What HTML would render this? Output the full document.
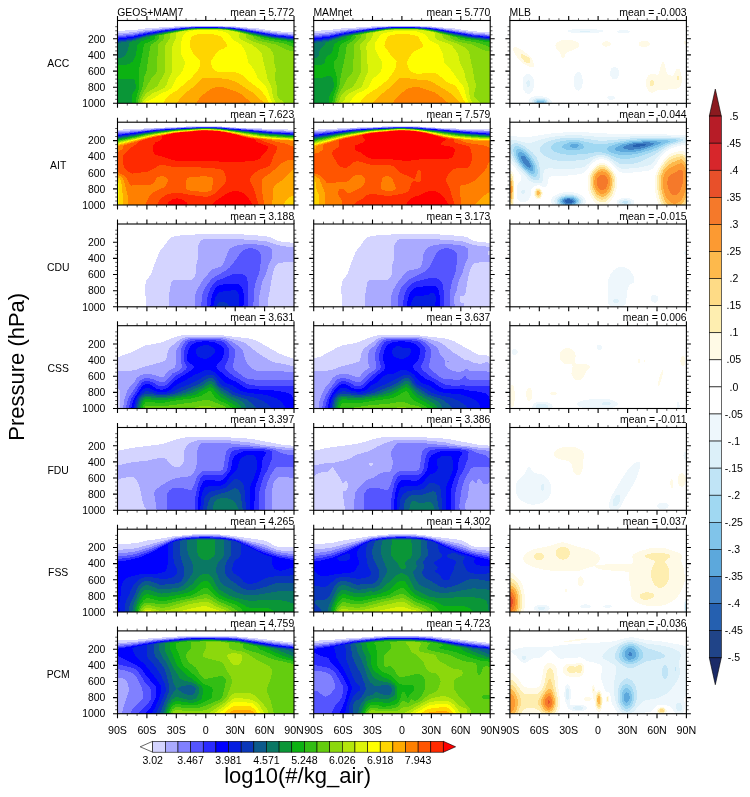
<!DOCTYPE html><html><head><meta charset="utf-8"><title>Zonal mean aerosol number</title>
<style>html,body{margin:0;padding:0;background:#fff}svg{display:block;will-change:transform}text{font-family:"Liberation Sans",sans-serif;fill:#000}</style></head><body>
<svg width="750" height="797" viewBox="0 0 750 797">
<rect width="750" height="797" fill="#fff"/>
<defs>
<clipPath id="c00"><rect x="117.5" y="20.5" width="176.5" height="82.8"/></clipPath>
<clipPath id="c10"><rect x="117.5" y="122.2" width="176.5" height="82.8"/></clipPath>
<clipPath id="c20"><rect x="117.5" y="224" width="176.5" height="82.8"/></clipPath>
<clipPath id="c30"><rect x="117.5" y="325.7" width="176.5" height="82.8"/></clipPath>
<clipPath id="c40"><rect x="117.5" y="427.5" width="176.5" height="82.8"/></clipPath>
<clipPath id="c50"><rect x="117.5" y="529.2" width="176.5" height="82.8"/></clipPath>
<clipPath id="c60"><rect x="117.5" y="630.9" width="176.5" height="82.8"/></clipPath>
<clipPath id="c01"><rect x="313.7" y="20.5" width="176.5" height="82.8"/></clipPath>
<clipPath id="c11"><rect x="313.7" y="122.2" width="176.5" height="82.8"/></clipPath>
<clipPath id="c21"><rect x="313.7" y="224" width="176.5" height="82.8"/></clipPath>
<clipPath id="c31"><rect x="313.7" y="325.7" width="176.5" height="82.8"/></clipPath>
<clipPath id="c41"><rect x="313.7" y="427.5" width="176.5" height="82.8"/></clipPath>
<clipPath id="c51"><rect x="313.7" y="529.2" width="176.5" height="82.8"/></clipPath>
<clipPath id="c61"><rect x="313.7" y="630.9" width="176.5" height="82.8"/></clipPath>
<clipPath id="c02"><rect x="509.9" y="20.5" width="176.5" height="82.8"/></clipPath>
<clipPath id="c12"><rect x="509.9" y="122.2" width="176.5" height="82.8"/></clipPath>
<clipPath id="c22"><rect x="509.9" y="224" width="176.5" height="82.8"/></clipPath>
<clipPath id="c32"><rect x="509.9" y="325.7" width="176.5" height="82.8"/></clipPath>
<clipPath id="c42"><rect x="509.9" y="427.5" width="176.5" height="82.8"/></clipPath>
<clipPath id="c52"><rect x="509.9" y="529.2" width="176.5" height="82.8"/></clipPath>
<clipPath id="c62"><rect x="509.9" y="630.9" width="176.5" height="82.8"/></clipPath>
</defs>
<g clip-path="url(#c00)" shape-rendering="crispEdges">
<g transform="scale(0.25)">
<rect x="468" y="80" width="712" height="337" fill="#ffffff"/>
<path fill="#d4d4ff" d="M695 106l104-3 120 1 117 10 68 11 72 4 0 284-706 0 0-290 60-2 48-7z"/>
<path fill="#aaaaff" d="M763 106l80-2 100 4 97 12 68 10 68 6 0 277-706 0 0-280 60-4 56-9 85-8z"/>
<path fill="#8080ff" d="M817 106l78 1 56 4 156 23 69 6 0 273-706 0 0-273 60-6 60-10 101-12 60-4z"/>
<path fill="#5555ff" d="M740 110l79-3 92 2 44 4 157 25 64 5 0 270-706 0 0-268 64-6 48-10 36-6 65-8z"/>
<path fill="#2a2aff" d="M757 110l82-2 48 1 40 3 36 4 141 23 72 7 0 267-706 0 0-263 60-7 56-12 73-11z"/>
<path fill="#0000ff" d="M778 110l69-1 76 3 32 4 150 26 71 7 0 264-706 0 0-258 60-8 64-14 77-13 64-7z"/>
<path fill="#051ee1" d="M799 110l84 1 40 2 32 4 145 26 76 9 0 261-706 0 0-254 60-8 64-16 85-14 68-8z"/>
<path fill="#0a37b9" d="M744 114l75-4 92 3 44 6 145 27 76 8 0 259-706 0 0-250 60-8 56-15 49-10 56-9z"/>
<path fill="#0c5a8c" d="M755 114l68-3 60 1 28 2 40 5 81 17 64 12 80 9 0 256-706 0 0-246 60-9 56-16 56-11 53-9z"/>
<path fill="#0a7864" d="M769 114l66-2 76 3 40 5 73 16 64 13 88 10 0 254-706 0 0-241 60-10 56-17 65-14 72-12z"/>
<path fill="#0a9637" d="M784 114l71-1 60 3 36 6 73 16 60 12 92 12 0 251-706 0 0-179 20-5 8-5 6-6 5-12 10-36 9-4 10-2 44-15 60-14 89-16z"/>
<path fill="#0cb212" d="M802 114l81 0 37 4 31 5 61 15 60 12 52 9 52 6 0 248-648 0 1-36 13-20 2-8-3-20-3-8-8-7-60 0 0-53 36-3 13-4 11-8 6-8 6-13 8-43 4-7 12-9 32-11 6-9 63-15 60-10 32-5z"/>
<path fill="#32be14" d="M753 118l70-4 60 1 30 3 38 6 113 28 84 14 28 8 0 239-633 0 4-32 11-32-2-71 13-60 5-32 3-8 5-4 24-11 8-5 5-4 2-8 8-4 62-14z"/>
<path fill="#64cd0f" d="M763 118l52-3 64 1 24 2 36 5 90 23 12 4 4 4 11 4 80 16 40 15 0 224-626 0 6-28 14-36 8-44 9-23 4-36 9-56 2-8 2-4 19-12 10-8 4-8 1-8 61-14z"/>
<path fill="#8cd80c" d="M775 118l44-2 64 1 28 3 36 6 58 16 3 2 5 2 1 4 3 4 16 8 19 5 52 11 40 20 16 5 16 2 0 208-619 0 5-19 9-21 35-60 17-20 4-7 5-104 1-4 17-16 6-8 1-12 4-4 36-8 46-9z"/>
<path fill="#b4e60a" d="M788 118l35-1 64 1 32 4 36 7 17 5 3 2 9 2 1 12 9 8 22 9 34 11 17 8 12 8 10 12 5 12 3 32 6 28-3 37 7 30 3 40 6 10 12 8 9 10-574 0 11-25 12-16 12-9 25-14 8-8 27-48 3-11 0-100 3-8 15-20 1-16 5-4 46-10 24-3z"/>
<path fill="#dcf408" d="M803 118l61 0 47 3 42 9 5 4-2 16 7 8 15 8 29 12 31 24 7 8 3 8 5 28 10 36 7 35 14 26 8 42 4 12 10 16-536 0 8-14 8-8 25-18 44-20 5-4 5-8 10-28 13-27-1-40 3-64 2-8 12-20 1-20 5-4 13-1 6-3 23-4z"/>
<path fill="#ffff00" d="M772 122l51-2 50 2 26 5 16 8 6 7 7 12 8 8 28 16 3 4 17 28 9 40 23 28 17 39 31 29 5 11 12 36 10 20-513 0 8-7 21-9 32-20 36-17 13-11 18-36 23-27 11-32 0-8-11-20-3-8-4-28 1-16 8-28 5-8 10-8 13-5z"/>
<path fill="#ffd500" d="M789 138l26-3 24 0 28 5 18 6 20 28 2 8-1 4-7 6-24 11-8 6-22 33-1 8 1 8 4 12 5 8 5 4 12 5 72 3 12 3 12 6 9 6 24 23 32 24 12 10 16 20 17 31-423 0 5-12 15-16 9-8 31-20 25-23 21-17 32-35 8-20 1-16-5-8-20-20-14-24-3-12 2-20 3-12 2-4 8-4z"/>
<path fill="#ffaa00" d="M811 313l12-3 64 4 28 4 24 8 12 6 64 41 43 40-353 0 30-36 40-30z"/>
<path fill="#ff8000" d="M862 349l17-2 12 1 60 21 15 8 42 36-221 0 3-8 5-8 15-16 29-22 11-6z"/>
</g>
</g>
<g clip-path="url(#c01)" shape-rendering="crispEdges">
<g transform="scale(0.25)">
<rect x="1252" y="80" width="712" height="337" fill="#ffffff"/>
<path fill="#d4d4ff" d="M1484 106l100-3 120 1 116 10 69 11 72 4 0 284-706 0 0-290 56-2 52-7z"/>
<path fill="#aaaaff" d="M1550 106l78-2 100 4 96 12 69 10 68 6 0 277-706 0 0-280 60-4 56-9 84-8z"/>
<path fill="#8080ff" d="M1507 110l93-4 100 2 48 5 145 21 68 6 0 273-706 0 0-273 60-6 64-11z"/>
<path fill="#5555ff" d="M1526 110l78-3 92 2 44 4 157 25 64 5 0 270-706 0 0-268 64-6 48-10 36-6z"/>
<path fill="#2a2aff" d="M1544 110l80-2 48 1 40 3 36 4 141 23 72 7 0 267-706 0 0-263 60-7 56-12 48-7 60-8z"/>
<path fill="#0000ff" d="M1565 110l71-1 72 3 32 4 150 26 71 7 0 264-706 0 0-259 60-7 64-14 76-12 69-9z"/>
<path fill="#051ee1" d="M1587 110l81 1 40 2 32 5 145 25 76 9 0 261-706 0 0-254 60-8 64-16 84-14 69-8z"/>
<path fill="#0a37b9" d="M1531 114l73-4 88 3 44 5 149 28 76 8 0 259-706 0 0-250 60-8 56-15 50-10 54-9z"/>
<path fill="#0c5a8c" d="M1542 114l66-3 86 3 42 5 145 29 80 9 0 256-706 0 0-246 60-9 56-16 56-11 56-10z"/>
<path fill="#0a7864" d="M1556 114l68-2 72 3 40 6 80 17 61 11 84 10 0 254-706 0 0-241 60-10 56-17 64-14 81-13z"/>
<path fill="#0a9637" d="M1572 114l68-1 56 3 40 6 76 17 57 11 48 7 44 5 0 251-706 0 0-180 12-3 5-4 4-8 1-12 4-8 16-16 7-12 63-21 64-15 89-15z"/>
<path fill="#0cb212" d="M1590 114l78 1 32 2 36 6 121 27 52 9 52 5 0 249-645 0 1-24 3-12 11-16 4-12 0-16-4-17-4-8-4-4-8-2-28 10-32 2 0-53 24-2 8-1 8-4 3-4 5-16 4-8 16-10 5-6 7-28 5-8 12-8 31-11 6-9 62-15 65-11 28-3z"/>
<path fill="#32be14" d="M1541 118l67-4 60 1 24 2 44 7 112 28 49 8 17 2 31 7 12 0 4 2 0 242-632 0 4-28 11-28 3-16-1-36-3-15-7-20 0-16 2-8 9-11 4-9 7-40 4-8 5-4 24-11 8-5 5-4 2-8 7-4 58-13z"/>
<path fill="#64cd0f" d="M1551 118l49-3 64 1 24 2 36 5 90 23 12 4 5 4 13 5 53 9 24 6 40 15 0 224-624 0 7-32 13-32 6-43 18-84 5-36 3-8 19-12 9-8 5-8 0-8 57-13z"/>
<path fill="#8cd80c" d="M1563 118l41-2 64 1 28 3 36 6 58 16 2 2 7 2 1 4 3 4 17 8 20 6 49 10 40 20 16 5 16 2 0 208-617 0 8-28 7-15 17-29 14-28 17-20 5-7 3-76 0-28 5-8 20-20 2-4 0-8 4-4 36-8 50-9z"/>
<path fill="#b4e60a" d="M1576 118l36-1 60 1 28 3 40 8 17 5 3 3 9 1 2 12 9 7 57 21 28 16 8 9 5 11 7 38 8 30 2 31 9 24 0 8-7 29-1 11 5 8 12 10 9 10-571 0 17-36 11-11 29-17 8-8 27-49 3-14-3-68-3-28 3-8 19-20 3-8 0-8 5-4 46-9 24-4z"/>
<path fill="#dcf408" d="M1593 118l53 0 50 4 8 3 16 1 4 3 13 1 3 4 1 16 8 8 15 7 30 9 13 8 25 32 7 36 18 36 6 31 10 24 6 48 5 12 7 12-530 0 16-12 7-16 7-8 13-8 35-16 5-4 6-8 10-28 11-24 2-7-5-44 0-24-3-20 1-12 3-8 17-20 7-20 5-4 14-1 4-3 16-1 7-3z"/>
<path fill="#ffff00" d="M1600 122l44 0 28 5 16 5 17 10 8 12 8 8 30 16 5 4 14 32 8 36 6 8 19 20 27 39 22 27 5 10 8 35 11 24-481 0 5-4 11-20 8-8 12-8 26-12 12-8 6-8 16-30 25-19 7-10 6-24-1-16-14-20-12-24-3-8 0-8 0-8 3-8 17-28 9-7 12-4z"/>
<path fill="#ffd500" d="M1580 138l40-2 21 2 19 4 10 4 4 4 18 28-1 8-3 4-8 5-20 8-9 7-21 32-2 4 1 12 3 12 6 12 11 7 15 5 16 1 32-4 16-1 12 3 12 5 32 27 12 7 20 8 8 7 10 14 28 52-421 0 2-8 5-8 15-16 51-32 30-24 8-8 26-35 7-20 1-16-5-8-20-20-9-15-12-13-3-8 3-12 11-24 9-4z"/>
<path fill="#ffaa00" d="M1596 313l8-3 16 1 48 7 40 3 20 6 76 47 39 39-352 0 13-16 22-20 30-24z"/>
<path fill="#ff8000" d="M1650 349l18-1 12 2 57 19 14 8 43 36-222 0 8-16 20-20 27-20 9-4z"/>
</g>
</g>
<g clip-path="url(#c02)" shape-rendering="crispEdges">
<g transform="scale(0.25)">
<rect x="2037" y="80" width="712" height="337" fill="#80c4ea"/>
<path fill="#a0d8f2" d="M2040 82l706 0 0 331-572 0 2-4-2-4-6-3-8 0-10 3-2 4 1 4-109 0z"/>
<path fill="#c0e4f6" d="M2040 82l706 0 0 331-564 0 1-4-1-4-5-4-9-3-8 0-8 1-8 4-4 6 2 4-102 0z"/>
<path fill="#dcf0f9" d="M2040 82l706 0 0 331-557 0 0-8-5-5-12-5-12-1-12 2-10 5-3 4 0 8-95 0z"/>
<path fill="#eef7fc" d="M2040 82l706 0 0 331-550 0 0-8-8-8-12-5-16-2-16 2-11 5-7 8 1 8-87 0zM2112 321l-4 3-3 9 3 12 4 4 4-1 2-3 2-4 1-8-2-8-3-4zM2324 122l-1 0-3 4 20 1 21-1-2-4z"/>
<path fill="#ffffff" d="M2040 82l706 0 0 331-540 0 0-8-2-4-8-8-16-6-20-3-24 2-12 4-4 4-4 7 0 12-76 0zM2108 296l-8 5-6 8-4 16 0 16 3 16 7 12 8 6 8 1 8-4 8-12 4-15 0-16-2-12-6-12-8-7-8-2zM2288 118l-16 4-1 4 14 4 23 2 32 2 33-1 24-3 14-4-1-4-5-2-32-4-45-1zM2433 385l-4 4 1 4 7 6 12 0 6-2 4-4 1-4-3-4-4-2-12-1zM2453 268l-7 6-4 8-2 15 3 8 5 8 5 3 8 2 8-5 5-8 3-8-1-11-3-8-4-6-8-5zM2477 122l-10 4 5 4 17 3 24-2 4-1 2-4-8-4-6-1zM2308 288l-8 9-3 8-3 12 0 12 2 15 4 10 4 5 8 4 8-3 7-11 3-12 1-16-3-16-4-9-8-8z"/>
<path fill="#fffae6" d="M2245 162l23-3 25 3 18 8 4 4 2 8-5 7-6 5-30 12-13 8-2 4-4 12-5 2-4 0-4-6-2-12-16-20-5-12 3-8 4-4zM2418 166l11-1 8 2 4 3 3 4-1 4-6 6-8 2-8 0-8-3-5-5 0-4 2-4zM2562 166l15-3 12 2 7 5 3 4 0 4-6 6-8 3-12 1-8-1-8-5-3-4 0-4 2-4zM2737 166l5-3 4 5 0 6-4 5-4-2-2-3zM2055 190l9-2 12 5 12 7 32 24 7 10 8 20 2 8-1 5-4 2-4 0-16-4-16-9-13-10-17-20-10-16-4-12 1-4zM2648 250l1-3 4 0 4 6 9 36 3 7 8 5 12 2 4-3 12-22 4-4 5 0 4 3 5 12 4 20 1 16-4 16-6 9-9 4-16 0-28 5-28 0-8 2-16 9-8 1-4-2-9-8-7-16-2-16 4-16 6-11 8-6 8-1 20 4 4-2 4-7 6-28z"/>
<path fill="#feeeb0" d="M2082 218l6-1 20 8 7 5 3 4 2 8-2 8-6 2-4 0-11-6-14-20zM2709 305l5-1 0 14-5 1 0-2zM2603 321l2-1 4 0 4 3 3 6-2 12-5 5-5-1-3-2-2-6 0-8z"/>
</g>
</g>
<g clip-path="url(#c10)" shape-rendering="crispEdges">
<g transform="scale(0.25)">
<rect x="468" y="486" width="712" height="337" fill="#ffffff"/>
<path fill="#d4d4ff" d="M763 505l44-2 40 0 96 7 233 9 0 301-706 0 0-301z"/>
<path fill="#aaaaff" d="M729 509l74-3 56 0 234 15 83 2 0 297-706 0 0-295 68-4 76-7z"/>
<path fill="#8080ff" d="M758 509l57-2 44 0 249 18 68 2 0 293-706 0 0-290 64-5 100-10z"/>
<path fill="#5555ff" d="M787 509l44-1 56 2 201 16 88 4 0 290-706 0 0-286 56-5 116-13z"/>
<path fill="#2a2aff" d="M721 513l86-4 60 1 233 19 76 3 0 288-706 0 0-283 60-6 92-12z"/>
<path fill="#0000ff" d="M741 513l74-3 52 1 124 9 97 10 88 5 0 285-706 0 0-280 60-7 96-13z"/>
<path fill="#051ee1" d="M760 513l59-3 52 2 116 9 97 10 92 6 0 283-706 0 0-277 60-7 100-15z"/>
<path fill="#0a37b9" d="M778 513l49-2 60 3 193 19 96 6 0 281-706 0 0-274 164-24 61-5z"/>
<path fill="#0c5a8c" d="M792 513l39-1 56 3 185 19 104 6 0 280-706 0 0-271 164-25 65-6z"/>
<path fill="#0a7864" d="M809 513l34 0 48 3 169 19 116 7 0 278-706 0 0-268 60-9 56-11 52-7 69-7z"/>
<path fill="#0a9637" d="M744 517l75-4 60 3 181 21 116 7 0 276-706 0 0-265 152-27 65-7z"/>
<path fill="#0cb212" d="M759 517l64-3 60 3 173 21 120 8 0 274-706 0 0-262 156-29 69-8z"/>
<path fill="#32be14" d="M773 517l54-2 56 3 169 22 56 5 68 3 0 272-706 0 0-259 60-11 56-13 40-6 73-9z"/>
<path fill="#64cd0f" d="M784 517l43-2 56 3 165 23 60 5 68 4 0 270-706 0 0-256 60-12 56-13 44-7 69-9z"/>
<path fill="#8cd80c" d="M794 517l41-1 52 3 157 24 60 5 72 4 0 268-706 0 0-253 60-13 56-13 47-8 70-10z"/>
<path fill="#b4e60a" d="M805 517l34 0 48 3 153 24 64 6 72 4 0 266-706 0 0-251 60-12 56-14 52-10 65-9z"/>
<path fill="#dcf408" d="M759 521l60-4 48 2 40 5 88 16 45 6 64 6 72 3 0 265-706 0 0-248 144-33 81-13z"/>
<path fill="#ffff00" d="M770 521l53-3 54 3 34 4 80 16 45 6 64 6 76 4 0 263-706 0 0-245 112-28 36-7 81-13z"/>
<path fill="#ffd500" d="M779 521l48-3 56 4 60 10 52 11 37 6 68 6 76 4 0 261-699 0-1-72-3-24-3-8 0-138 112-29 40-8 77-13z"/>
<path fill="#ffaa00" d="M787 521l44-2 52 4 58 10 54 12 33 5 72 7 76 4 0 221-12 3-12 9-9 10-9 16-642 0-1-40-6-52-4-12-11-9 0-126 112-30 40-9 77-13z"/>
<path fill="#ff8000" d="M795 521l36-1 52 4 32 5 76 17 33 5 64 7 88 5 0 113-14 12-27 28-31 21-8 9-3 6-1 8-3 60-577 0-2-40-15-60-9-12-16-9 0-114 112-32 44-10 73-13z"/>
<path fill="#ff5500" d="M804 521l39 0 60 7 97 22 86 11 18 6 40 8 32 13 0 50-28 4-20 9-32 29-20 16-20 13-7 7-2 12 0 32 11 60-478 0 18-36 6-8 10-7 20-11 21-8 8-7 6-11 2-8-1-8-2-4-5-4-8-3-13 0-8 2-8 5-8 17-4 4-8 5-12 2-68 2-8-6-10-20-10-12-28-17 0-78 18-12 3-4 4-12 11-2 76-24 117-24zM759 708l-9 4-5 8-3 32 1 4 6 4 18 4 56 4 16-3 6-5 3-4 5-36-4-8-6-4-20-3z"/>
<path fill="#ff2a00" d="M816 521l51 3 32 4 44 9 48 13 46 7 16 8 38 12 15 8 2 8-3 12-11 20-9 28-5 8-12 8-24 8-15 7-19 16-6 8-4 8 1 12 15 29 19 63-408 0 11-20 13-12 20-11 20-5 24-1 40 8 64 8 12 0 20-8 16-11 25-24 9-12 3-8 0-12-4-16-6-12-4-4-7-2-40-7-152-4-45-8-12 4-24 15-20 9-60 7-8-2-7-4-16-15-4-8-2-8 1-36 2-4 30-27 19-13 12-12 41-13 97-20z"/>
<path fill="#ff0000" d="M776 525l47-2 44 1 32 5 39 8 49 14 32 6 5 8 8 5 38 15 2 4 0 4-5 8-15 16-12 16-12 7-16 4-77 5-100-5-124-1-20-2-40-14-24-6-7-4-6-8-2-12 0-12 4-8 6-7 19-9 5-4 0-12 9-1 3-3 13-1 5-3 15-2 8-3 40-4 28-1zM932 764l11-1 12 2 20 8 9 7 7 8 20 32-165 0 12-12 17-13 36-23zM692 796l15-3 20 5 18 10 10 12-90 0 14-16z"/>
</g>
</g>
<g clip-path="url(#c11)" shape-rendering="crispEdges">
<g transform="scale(0.25)">
<rect x="1252" y="486" width="712" height="337" fill="#ffffff"/>
<path fill="#d4d4ff" d="M1555 505l37-2 40 0 156 10 173 5 0 302-706 0 0-301 148-8z"/>
<path fill="#aaaaff" d="M1516 509l72-3 52 0 172 11 149 6 0 297-706 0 0-294 144-12z"/>
<path fill="#8080ff" d="M1545 509l55-2 44 0 198 14 119 5 0 294-706 0 0-290 164-15z"/>
<path fill="#5555ff" d="M1573 509l43-1 56 2 196 15 93 5 0 290-706 0 0-286 172-18z"/>
<path fill="#2a2aff" d="M1508 513l84-4 60 1 238 19 71 3 0 288-706 0 0-282 152-19z"/>
<path fill="#0000ff" d="M1527 513l73-3 52 1 124 9 105 10 80 5 0 285-706 0 0-279 156-21z"/>
<path fill="#051ee1" d="M1546 513l58-2 52 1 116 10 112 11 77 4 0 283-706 0 0-276 160-23z"/>
<path fill="#0a37b9" d="M1563 513l49-2 60 3 197 20 92 5 0 281-706 0 0-273 164-25 60-5z"/>
<path fill="#0c5a8c" d="M1578 513l38-1 56 3 189 20 100 6 0 279-706 0 0-270 60-9 56-11 48-6 68-6z"/>
<path fill="#0a7864" d="M1595 513l81 3 176 20 109 7 0 277-706 0 0-267 60-10 56-11 53-7 67-7z"/>
<path fill="#0a9637" d="M1531 517l73-4 64 3 176 21 117 8 0 275-706 0 0-264 150-27 66-8z"/>
<path fill="#0cb212" d="M1546 517l62-3 60 3 172 22 57 5 64 3 0 273-706 0 0-261 112-22 40-7 72-9z"/>
<path fill="#32be14" d="M1559 517l53-2 56 3 168 22 61 5 64 4 0 271-706 0 0-258 112-24 44-7 72-9z"/>
<path fill="#64cd0f" d="M1569 517l47-2 56 4 160 23 65 5 64 3 0 270-706 0 0-255 112-25 44-7 72-10z"/>
<path fill="#8cd80c" d="M1580 517l40-1 52 3 160 25 65 5 64 3 0 268-706 0 0-252 112-26 48-8 72-11z"/>
<path fill="#b4e60a" d="M1591 517l33 0 48 3 57 9 51 10 48 6 69 6 64 3 0 266-706 0 0-249 112-27 56-10 64-10z"/>
<path fill="#dcf408" d="M1545 521l59-4 52 3 40 4 84 16 44 7 69 6 68 3 0 264-706 0 0-246 112-28 32-7 80-13z"/>
<path fill="#ffff00" d="M1556 521l52-3 60 3 60 10 52 11 40 6 73 7 68 3 0 262-706 0 0-243 112-29 36-8 80-13z"/>
<path fill="#ffd500" d="M1565 521l47-3 56 4 32 5 80 17 36 6 73 7 72 3 0 260-704 0-2-15 0-225 112-30 36-8 80-14z"/>
<path fill="#ffaa00" d="M1573 521l43-2 52 4 60 11 52 12 36 5 65 7 80 4 0 250-7 8-677 0-1-40-3-8-6-8-6-44-6-10 0-127 108-31 44-9 76-14z"/>
<path fill="#ff8000" d="M1581 521l35-1 52 4 36 6 72 17 36 6 49 6 29 2 11 3 60 0 0 202-28 18-33 36-601 0 3-36-2-12-21-53-6-7-18-10 0-103 10-6 1-4-1-4 9-4 85-26 45-10 79-15z"/>
<path fill="#ff5500" d="M1589 521l39 0 42 4 25 4 85 20 49 8 13 4 10 6 21 5 58 9 14 4 16 8 0 53-7 7-9 20-8 12-22 23-18 15-28 14-25 5-4 4-1 18 7 56-481 0 4-8 1-8-12-16-5-12 1-12 5-8 4-2 8 0 8 5 12 14 4 1 8-3 36-18 12-9 5-8 3-8 1-8-1-8-4-5-8-5-20-2-16 6-16 17-12 6-24-1-44 6-8-2-23-28-9-5-12-4-8-4 0-76 20-5 12-7 4-6 3-16 4-4 9-2 3-2 53-17 116-25zM1544 704l-12 4-5 8-2 24 1 16 6 4 16 4 16 0 15-4 5-4 0-4-14-36-10-8-8-3z"/>
<path fill="#ff2a00" d="M1602 521l50 3 32 4 43 9 45 13 24 5 18 2 1 8 3 4 6 3 39 9 11 4 5 4 5 12 5 24-4 24-5 12-7 8-10 4-11 1-24-2-15 5-9 7-9 12-8 12-3 8 0 8 14 28 21 68-405 0 5-7 8-6 23-11 6-4 6-8 6-4 11-3 16-1 41 6 32 0 44-8 15-6 6-4 6-8 5-19 8-13 4-2 16 8 6-2 4-4 2-8-1-32-4-4-7 1-3 3-5 22-4 7-4 3-24-13-28-10-24-24-8-5-12-3-77-2-12-3-28-9-16-2-8 2-8 4-16 14-8 5-8 2-12-3-8-4-9-8-21-40 0-8 5-8 20-12 2-8-1-20 8-1 5-3 11-2 4-2 12-2 6-2 14-2 64-15z"/>
<path fill="#ff0000" d="M1561 525l47-2 48 2 49 8 3 2 30 6 18 7 8 1 4 3 11 1 1 3 5 1-15 12-7 8 5 4 29 4 15 5 7 7 0 8-2 8-5 12-4 4-8 4-12 2-104 2-56 7-56-6-81-3-13-2-16-8-15-13-24-11-5-8 0-8 4-4 25-9 11-7 1-4 0-4-12-16 12-1 3-3 13-1 8-3 25-2 16-3 28-1zM1717 764l11-1 12 2 20 8 12 11 16 23 8 13-173 0 10-16 15-13 8-4 20-5 24-12zM1476 820l15-1 15 1z"/>
</g>
</g>
<g clip-path="url(#c12)" shape-rendering="crispEdges">
<g transform="scale(0.25)">
<rect x="2037" y="486" width="712" height="337" fill="#204488"/>
<path fill="#2560b0" d="M2040 489l706 0 0 331-706 0z"/>
<path fill="#3f80c4" d="M2040 489l706 0 0 331-706 0zM2264 799l-5 5 1 4 6 4 14 1 10-5 1-4-3-4-4-1-12-2zM2549 577l-16 4-5 4 5 2 8 1 27-3 14-4 4-4-13-2z"/>
<path fill="#5ca8dc" d="M2040 489l706 0 0 331-706 0zM2088 622l-4 3 0 8 8 17 8 10 8 7 8 4 4 0 2-2 0-8-7-16-15-18-8-4zM2260 796l-7 4-2 4 1 4 4 4 8 4 8 1 12-1 10-4 4-4 0-4-2-4-8-5-16-2zM2541 572l-36 9-8 4-4 4 0 4 8 4 20 2 28-2 28-6 29-10 7-4 2-4-14-3-16-1z"/>
<path fill="#80c4ea" d="M2040 489l706 0 0 331-466 0 16-4 5-4 3-4 1-4-2-4-7-5-8-4-12-1-12 1-8 2-8 5-3 6 1 4 6 7 8 3 10 2-230 0zM2080 608l-4 1-3 4-1 8 3 12 8 16 13 16 12 11 12 7 8 1 4-4 1-11-4-12-6-12-11-16-12-12-12-8zM2284 576l-5 5 0 4 9 5 16 1 6-2 5-4 0-4-3-3-8-4-12 0zM2585 565l-48 3-44 9-13 4-16 8-4 4 0 4 3 4 10 4 28 4 32-1 36-7 44-15 29-13 3-4-24-4z"/>
<path fill="#a0d8f2" d="M2040 489l706 0 0 331-450 0 12-8 2-4 0-8-6-5-8-5-20-3-12 0-12 4-8 4-4 5-1 8 3 4 12 8-214 0zM2072 596l-4 1-4 4-2 12 5 16 10 20 15 20 20 18 12 7 8 2 4-1 5-7 0-15-4-16-9-16-12-17-16-16-16-10zM2280 569l-22 8-9 8 0 4 3 4 8 4 20 4 24 0 22-4 7-4 3-4 0-4-6-8-14-7-16-3zM2581 561l-52 3-52 9-38 12-7 4-4 4 0 4 8 8 9 5 16 6 16 3 20 1 20 0 44-8 48-14 72-33-8-3-12-1z"/>
<path fill="#c0e4f6" d="M2040 489l706 0 0 331-441 0 7-5 5-7-1-8-3-4-9-6-8-4-20-3-24 4-8 3-8 6-2 4-1 8 6 8 6 4-205 0zM2064 584l-8 5-3 8 0 8 5 20 12 24 22 26 24 23 16 9 8 1 4-1 4-4 2-7 0-19-5-20-10-20-15-20-20-19-20-11-8-3zM2561 557l-56 5-80 13-24 2-24-2-61-14-20-1-20 0-32 5-20 5-16 10-4 5-1 4 2 8 11 9 16 6 20 5 24 2 32-1 40-3 41-7 12 0 24 6 48 19 16 2 24 0 36-7 60-20 20-9 32-18 47-16 4-4-11-4-16-1z"/>
<path fill="#dcf0f9" d="M2040 489l706 0 0 331-432 0 5-4 5-8-1-8-3-4-8-7-8-4-12-4-16-1-24 3-12 4-8 5-6 8 0 8 5 8 4 4-195 0zM2056 573l-8 4-4 4-2 8-1 8 5 20 17 32 26 31 31 31 16 9 8 1 8-1 4-4 3-8 1-28-4-27-10-24-16-20-30-22-24-12-12-3zM2252 552l-29 5-29 8-17 8-14 12-4 12 4 12 13 12 20 12 16 6 20 4 24 2 24-1 56-5 49-17 12-2 12 0 12 2 16 7 40 25 20 4 36-3 32-9 52-27 52-35 19-7 38-11 9-5-2-4-19-4-105-3-68 2-124 11-24-1-81-11-28 0zM2493 804l-5 4 2 4 7 3 12-1 3-2 2-4-5-4-4-1z"/>
<path fill="#eef7fc" d="M2040 489l706 0 0 62-32-4-121-4-168 7-97-8-56-1-40 3-36 6-32 8-40 14-12 1-52-13-12 0-8 3zM2744 569l2-1 0 252-237 0 12-4 4-4 1-4-2-4-6-4-17-3-17 3-6 4-2 4 1 4 4 4 12 4-169 0 7-8 1-8-2-8-6-6-8-5-12-5-28-5-28 3-12 5-12 7-5 6-2 8 2 8 6 8-185 0 0-191 29 40 47 52 16 10 8 2 16 0 8-2 4-2 2-5 5-40 5-7 4-2 12-2 64 4 64-5 16-6 35-29 10-5 12-3 16 0 16 5 16 10 24 22 16 8 16 1 32-2 28-4 24-5 12-3 12-7 30-37 14-12 20-14 23-10zM2088 760l-3 4 0 8 3 4 4 2 4-2 3-4 1-8-4-5-4-1z"/>
<path fill="#ffffff" d="M2040 489l706 0 0 53-137-7-56-1-108 1-105-6-52-1-72 4-48 7-56 10-20 1-36-6-16-1zM2733 581l13 2 0 237-216 0 8-8-1-8-4-4-12-6-20-3-16 2-14 7-4 4-1 8 7 8-135 0 4-8 1-8-4-12-8-8-11-6-12-5-16-4-20-1-20 2-16 4-12 5-12 8-7 9-1 8 2 8 5 8-171 0 0-169 4 2 8 7 27 36 6 12 1 8-1 4-13 16-4 12-2 20 1 16 3 12 6 8 8 4 12 0 12-4 8-7 3-5 3-8 3-24 3-8 4-4 8-4 12-3 8 1 16 7 4 1 4-2 6-12 5-24 3-4 6-3 68-3 52-6 8-4 8-6 26-29 11-10 12-7 16-4 16 3 12 6 12 10 28 28 8 5 8 2 16 1 28-1 60-7 12-5 8-6 12-16 20-31 20-20 16-9 16-7 21-6z"/>
<path fill="#fffae6" d="M2714 605l12-1 8 2 12 11 0 203-111 0-9-28-7-36-1-36 5-24 7-16 15-26 20-27 8-7 12-7zM2399 653l10-1 8 1 8 4 12 8 12 12 10 15 6 12 4 12 1 16-2 16-8 28-6 12-13 18-8 8-9 6-30 0-13-9-9-11-12-20-6-16-3-16-1-16 1-16 2-12 5-12 10-15 11-12 10-8zM2040 684l4-1 4 2 2 3 4 8 3 16 1 40-2 68-16 0zM2148 752l4-1 8 3 7 6 3 8 0 12-3 8-3 5-8 4-4 1-8-4-5-6-3-8 0-8 1-8 5-8z"/>
<path fill="#feeeb0" d="M2707 617l15-3 8 1 8 6 8 10 0 189-98 0-12-28-7-36-2-36 4-24 14-29 20-27 8-8 11-7zM2399 661l10-2 8 2 8 4 12 8 10 11 7 12 5 12 2 12 0 16-3 16-5 16-5 12-15 19-8 6-12 4-12-1-8-3-8-6-8-9-13-22-6-28 1-28 6-20 8-11 8-9 8-7zM2043 696l5 2 4 9 3 25 0 56-2 20-3 12-10 0 0-121zM2148 756l8 0 4 2 6 10 0 8-2 8-4 5-4 2-4 0-7-3-3-4-3-8 2-12 3-5z"/>
<path fill="#fedb86" d="M2706 629l16-4 8 1 8 7 8 13 0 162-8 12-79 0-13-24-8-32-3-36 3-28 10-23 17-24 16-14zM2399 669l10-2 8 2 16 9 8 8 7 10 6 20 0 12-1 16-8 25-7 11-7 8-10 7-8 3-8 0-8-3-8-5-8-8-12-22-5-24 1-24 7-20 13-15zM2041 712l3-3 4 3 4 15 1 21-2 44-3 17-4 3-4-5zM2149 760l7 0 4 3 2 5 1 8-2 4-5 6-4 0-4-1-5-9 1-10z"/>
<path fill="#fdb94c" d="M2711 641l11-4 8 2 8 8 8 17 0 121-9 19-13 16-51 0-8-8-8-13-10-31-5-36 3-28 8-21 16-20 16-11zM2402 677l15 0 8 3 8 7 10 13 5 20-2 24-3 12-6 12-12 14-8 4-8 2-12-4-14-12-8-16-5-24 1-20 6-16 12-13zM2042 724l2-2 4 5 3 25-2 32-1 8-4 6-4-8 0-60zM2151 764l5 1 3 7-3 8-4 1-4-2-2-7 2-6z"/>
<path fill="#fc9a32" d="M2712 657l10-4 8 2 4 3 5 11 7 26 0 45-6 28-10 25-8 11-8 6-9 4-8 1-10-3-10-7-8-9-8-15-8-29-2-20 1-16 5-20 12-16 12-9zM2396 688l13-3 8 2 8 3 10 10 6 16-1 20-6 20-9 13-12 7-12-1-8-6-8-11-7-18-1-16 3-16 6-12zM2043 740l3 4 2 12-1 12-3 12-4-20z"/>
<path fill="#f5792a" d="M2716 680l6-2 4 1 4 4 1 5 2 16-3 31-8 25-7 12-10 8-12 1-8-5-4-4-8-16-4-21 2-19 3-8 7-8 20-10zM2401 700l12-1 8 3 8 9 2 9 0 12-3 12-7 12-8 5-8 0-8-6-5-7-5-12 0-12 2-11 4-6z"/>
</g>
</g>
<g clip-path="url(#c20)" shape-rendering="crispEdges">
<g transform="scale(0.25)">
<rect x="468" y="893" width="712" height="337" fill="#ffffff"/>
<path fill="#d4d4ff" d="M810 936l137 0 113 8 24 5 26 15 6 1 28 4 32 2 0 256-593 0 0-36-4-32 4-32 4-8 13-16 6-10 14-41 18-45 8-11 17-20 10-16 14-11 16-6z"/>
<path fill="#aaaaff" d="M820 956l75-2 52 2 101 7 20 3 44 15 40 6 24 1 0 59-28 1-32 4-8 4-8 12-6 15-9 40-6 40-5 24-1 40-399 0 1-44 10-56 6-6 8-3 64 0 4 0 8-6 5-9 3-8 2-35 7-28-1-40 3-12 9-17 4-4z"/>
<path fill="#8080ff" d="M953 980l38-4 53 3 28 6 12 7 2 4 1 36-13 28-10 37-12 22-4 12-11 52-1 44-257 0 0-36 2-12 9-24 20-32 33-41 12-7 26-7 7-4 7-12 15-40 6-12 7-8 6-4z"/>
<path fill="#5555ff" d="M983 996l17-4 12 2 12 3 8 5 6 6 4 8 3 8-1 16-6 43-4 16-11 28-6 28-4 72-208 0 2-36 4-20 8-18 20-28 9-10 11-8 40-22 19-14 25-32 20-29 8-8z"/>
<path fill="#2a2aff" d="M933 1095l18-1 20 3 12 6 4 8 3 12 2 28 1 44-2 32-164 0 2-32 4-20 8-20 10-16 11-12 9-6 28-10z"/>
<path fill="#0000ff" d="M913 1135l34 0 12 5 8 7 5 12 4 24 0 24-3 20-132 0 6-41 7-19 6-12 11-10 8-5z"/>
<path fill="#051ee1" d="M907 1163l36-2 8 7 5 11 2 12-1 20-3 16-101 0 6-29 4-11 8-12 8-7z"/>
<path fill="#0a37b9" d="M879 1207l12 0 14 4 10 8 5 8-54 0 5-12z"/>
</g>
</g>
<g clip-path="url(#c21)" shape-rendering="crispEdges">
<g transform="scale(0.25)">
<rect x="1252" y="893" width="712" height="337" fill="#ffffff"/>
<path fill="#d4d4ff" d="M1595 936l137 0 112 8 25 5 26 15 6 1 28 4 32 2 0 256-593 0 0-36-4-32 4-32 4-8 13-16 6-10 14-41 18-45 8-11 16-20 11-16 13-11 16-6z"/>
<path fill="#aaaaff" d="M1605 956l75-2 52 2 100 7 20 3 45 15 64 7 0 18-4-4-4 2-3 8 3 8 4 2 4-4 0 29-28 1-32 4-8 4-8 12-6 15-9 40-6 40-3 14-4 5-15 1-3 4-1 4 0 12 1 4 5 3 8 1 5 2 1 14-399 0 1-44 10-56 5-6 8-3 65 0 4 0 8-6 5-9 3-8 1-35 8-28-1-40 2-12 10-17 4-4z"/>
<path fill="#8080ff" d="M1738 980l38-4 52 3 29 6 12 7 2 4 1 36-13 28-11 37-13 26-9 40-10 24 0 16 4 24-256 0 0-36 2-12 9-24 20-32 29-33 8-6 8-3 31-6 12-7 5-12 6-40 7-16 7-8 6-4z"/>
<path fill="#5555ff" d="M1767 996l17-4 12 2 12 3 8 5 7 6 4 8 2 8 0 16-6 43-4 16-11 28-6 28-4 72-208 0 3-44 6-20 6-12 20-24 11-9 16-9 28-12 20-12 11-10 12-15 13-28 11-20 9-10z"/>
<path fill="#2a2aff" d="M1708 1115l16-3 20 1 15 6 7 8 6 16 3 28 2 28-1 28-164 0 2-28 4-20 8-20 8-12 14-13 12-7z"/>
<path fill="#0000ff" d="M1716 1143l16-1 8 1 6 4 6 8 5 16 2 20 1 20-2 16-132 0 4-24 5-20 8-16 9-11 12-7z"/>
<path fill="#051ee1" d="M1726 1171l6-1 4 1 4 6 2 6 1 20-4 24-100 0 9-25 12-17 4-2 20 1 24-4 8-2z"/>
<path fill="#0a37b9" d="M1660 1223l8-1 20 5-33 0z"/>
</g>
</g>
<g clip-path="url(#c22)" shape-rendering="crispEdges">
<g transform="scale(0.25)">
<rect x="2037" y="893" width="712" height="337" fill="#dcf0f9"/>
<path fill="#eef7fc" d="M2040 896l706 0 0 331-706 0zM2461 1195l-6 4-2 4 1 4 3 4 4 1 8 0 5-5 1-4-1-4-5-4z"/>
<path fill="#ffffff" d="M2040 896l706 0 0 331-258 0 11-8 5-8 1-8 3-36 5-18 8-12 12-6 4-4 1-8-6-20-11-16-16-12-12-3-8-1-16 4-16 11-12 17-8 20-2 20 2 32-3 32 4 12 6 8 6 4-406 0zM2609 1182l-4 5-2 4 0 8 2 5 4 4 8 3 4 0 8-4 4-6 1-6-1-6-4-5-8-4-4-1zM2738 1008l-1 8 1 2 4 2 3-4 0-4-3-7z"/>
</g>
</g>
<g clip-path="url(#c30)" shape-rendering="crispEdges">
<g transform="scale(0.25)">
<rect x="468" y="1300" width="712" height="337" fill="#ffffff"/>
<path fill="#d4d4ff" d="M746 1339l29-1 112 3 117 14 24 8 90 52 58 21 0 198-706 0 0-204 20-9 42-14 34-18 16-7 60-11 53-21 32-9z"/>
<path fill="#aaaaff" d="M758 1347l61-1 68 2 24 3 43 12 14 4 16 8 44 34 52 34 20 7 44 8 32 8 0 168-698 0 3-68-3-7-8-5 0-69 36-1 32-3 44-16 44-11 29-9 8-6 2-4 7-32 4-8 7-8 30-24 12-8 14-5z"/>
<path fill="#8080ff" d="M789 1351l46-1 52 3 24 6 18 8 26 17 12 11 4 8 9 32 11 24 13 13 16 9 12 3 16 2 76-1 52 4 0 145-685 0 7-36 12-36 8-13 15-15 15-24 14-9 12-4 12-2 20 2 36 11 9 0 4-2 20-23 23-13 3-4 4-19 1-48 20-32 11-8 10-4 16-3z"/>
<path fill="#5555ff" d="M806 1355l37 0 40 3 16 4 11 5 24 24 6 8 0 20-8 47 2 8 5 6 34 26 14 8 13 3 52 3 124-2 0 116-673 0 7-31 7-17 43-64 14-8 16-2 20 4 32 13 9 0 8-3 9-8 22-24 26-12 11-9 1-7-5-27 1-40 6-16 10-16 7-5 12-4z"/>
<path fill="#2a2aff" d="M770 1363l37-4 36 1 40 4 8 3 6 4 17 20 4 12-5 36-14 27 2 8 7 8 23 20 60 35 21 4 28 3 136 2 0 88-662 0 6-24 6-16 32-51 12-14 12-5 12 0 16 5 28 16 8 1 9-1 12-7 32-32 34-20 9-8 5-8 0-4-10-19-2-8 0-20 3-20 6-16 8-12 4-4z"/>
<path fill="#0000ff" d="M794 1367l29-2 29 2 20 8 11 6 8 8 4 6 2 8-4 24-6 13-19 19-2 7 1 4 5 8 43 36 32 14 28 20 16 7 105 7 40 6 22 6 10 9 8 18 0 33-652 0 8-28 9-20 25-37 12-11 8-3 12 2 28 17 12 4 8 1 13-2 13-7 31-29 66-43 6-8 0-4-4-5-16-11-7-11 0-12 3-18 4-14 8-13 16-10z"/>
<path fill="#051ee1" d="M806 1383l21-3 12 3 9 4 7 5 5 7 0 8-3 8-14 12-16 8-16-1-16-5-4-3-4-7-3-12 1-8 6-8zM824 1478l7 0 8 2 16 7 16 12 24 28 8 5 28 10 24 16 12 7 24 6 69 8 26 7 20 8 10 6 11 10 9 12 7 12-610 0 8-32 8-16 21-26 12-9 12 0 28 13 16 5 13 0 16-3 16-8 24-20 32-15 34-21z"/>
<path fill="#0a37b9" d="M835 1498l12 1 8 3 9 8 15 24 4 5 32 15 24 16 25 8 51 12 23 8 16 8 18 12 16 16-548 0 6-28 7-16 9-11 16-12 8-3 8 1 32 9 16 2 17 0 20-4 15-6 33-17 38-15 58-31z"/>
<path fill="#0c5a8c" d="M830 1514l9-3 12 3 8 7 11 17 9 10 24 13 27 17 57 20 25 20 8 8 5 8-479 0 5-24 7-16 8-10 12-8 8-2 8 0 36 7 16 1 25-2 28-6 15-4 69-28 16-8z"/>
<path fill="#0a7864" d="M831 1526l8-3 8 1 8 6 15 20 9 8 37 24 39 16 8 5 16 15 5 8 2 8-435 0 5-20 6-16 8-9 8-5 12-2 40 5 21 1 24-3 44-8 24-7 57-24 15-8z"/>
<path fill="#0a9637" d="M834 1538l5-2 8 2 40 38 20 13 41 21 13 12 6 12-410 0 4-16 6-16 7-9 8-4 12 0 40 4 21 1 80-13 37-11 39-18z"/>
<path fill="#0cb212" d="M834 1550l9-1 8 5 24 29 10 7 43 24 15 11 7 9-388 0 8-23 6-9 6-5 12 0 40 4 21 0 100-16 28-7z"/>
<path fill="#32be14" d="M833 1566l6-1 5 1 13 20 8 8 10 7 36 17 20 16-362 0 6-16 6-8 5-2 48 3 21 0 48-9 68-9 32-9z"/>
<path fill="#64cd0f" d="M808 1602l19-3 12 2 56 23 16 10-334 0 5-9 4-2 56 1 21 0 104-14z"/>
<path fill="#8cd80c" d="M794 1626l21-3 16 0 51 11-118 0z"/>
</g>
</g>
<g clip-path="url(#c31)" shape-rendering="crispEdges">
<g transform="scale(0.25)">
<rect x="1252" y="1300" width="712" height="337" fill="#ffffff"/>
<path fill="#d4d4ff" d="M1531 1339l29-1 112 3 116 14 25 8 96 54 12 4 12-1 4 1 8 0 4 3 12 3 0 207-706 0 0-202 20-3 8-3 64-35 20-9 60-11 52-21 33-9z"/>
<path fill="#aaaaff" d="M1542 1347l46-1 52 0 36 2 24 4 48 13 16 7 16 11 32 26 49 31 16 2 16 9 24 4 12-1 16-6 4 1 12 12 0 173-703 0-3-56 0-95 36 1 32-3 44-16 44-11 24-7 4-4 2-4 3-20 4-12 4-8 7-8 51-36 14-5z"/>
<path fill="#8080ff" d="M1574 1351l50 0 48 2 24 6 17 8 27 17 12 11 11 28 9 5 5 7 3 12 0 14 3 5 9 8 12 7 20 5 20 0 8-2 13-8 4 0 8 7 8 2 56 0 20 3 0 146-687 0 5-36 16-37 6-11 14-14 17-26 15-9 12-4 12-2 20 2 36 11 8 0 4-2 17-20 22-16 0-4-5-15-1-12 2-28 4-12 21-17 12-15 11-8 18-6zM1789 1443l3-1 4 3 0 2-4 4-5-4z"/>
<path fill="#5555ff" d="M1591 1355l37 0 40 3 16 4 11 5 24 24 6 8-1 20-8 47 2 8 6 6 34 26 14 8 12 3 52 2 8-3 13-11 4-1 8 12 8 3 84-1 0 116-673 0 6-28 7-20 16-28 26-34 8-7 8-3 16-2 20 4 32 13 8 0 8-3 9-8 19-20 24-16 9-8 2-8-5-27 1-32 2-8 21-32 7-5 12-4z"/>
<path fill="#2a2aff" d="M1555 1363l37-4 36 1 40 4 8 3 5 4 18 20 4 12-6 36-13 27 2 8 7 8 23 20 60 35 20 4 28 3 12-1 12-4 4-1 9 5 8 2 92 1 0 88-662 0 10-36 15-32 11-16 20-21 12-5 12 0 16 5 28 16 8 1 8-1 12-7 32-32 35-28 3-4 2-8-7-31 0-16 4-16 9-20 7-12 5-4z"/>
<path fill="#0000ff" d="M1579 1367l25-2 32 2 21 8 11 6 8 8 4 6 1 8-4 24-5 13-19 19-2 7 0 4 6 8 43 36 32 14 28 20 16 7 48 3 24-2 13 4 60 8 22 6 10 9 8 18 0 33-652 0 9-36 9-21 10-15 25-24 9-3 12 2 28 16 12 4 12 1 12-3 12-7 20-20 16-13 17-16 22-17 5-8 2-8-1-7-7-16-2-8 2-16 7-24 4-8 8-8 14-8z"/>
<path fill="#051ee1" d="M1583 1387l5-2 8 0 16 8 16-3 8 0 6 5 3 4 1 4-2 8-6 8-6 6-20 10-12 0-16-4-8-4-3-4-3-8-1-12 3-8zM1607 1478l13 1 20 8 16 12 24 28 8 5 28 10 24 16 12 7 28 7 44 4 16 0 50 18 13 8 10 9 4 7 5 16-604 0 7-36 6-14 8-10 24-21 8-3 8 1 26 11 18 4 16 1 16-3 13-6 19-17 21-12 19-19 13-9 8-3 24-3z"/>
<path fill="#0a37b9" d="M1620 1498l12 1 8 3 9 8 15 24 4 5 32 15 24 16 24 8 52 12 32 12 30 20 11 12-548 0 6-32 4-12 11-12 17-11 12-3 32 8 20 2 24 0 16-3 12-5 33-17 40-16 60-32z"/>
<path fill="#0c5a8c" d="M1615 1514l9-3 12 3 8 7 11 17 9 10 24 13 26 17 56 20 26 20 8 8 5 8-478 0 5-28 5-12 10-11 12-7 12-2 36 5 28 2 20-2 25-5 15-4 69-28 16-8z"/>
<path fill="#0a7864" d="M1616 1526l8-3 8 1 7 6 16 20 9 8 40 26 34 14 10 6 15 14 5 8 2 8-433 0 5-24 4-12 7-8 10-7 12-1 40 4 24 1 24-3 41-7 24-7 57-24 15-8z"/>
<path fill="#0a9637" d="M1618 1538l10-1 8 4 28 29 12 10 60 34 8 8 8 12-409 0 9-32 6-8 9-5 12 0 40 4 20 0 81-12 36-10 40-19z"/>
<path fill="#0cb212" d="M1619 1550l9-1 8 5 8 8 12 18 8 8 52 30 11 8 7 8-385 0 10-28 8-8 12-1 36 4 20 1 109-17 16-4 12-5z"/>
<path fill="#32be14" d="M1618 1566l6-1 4 1 4 4 10 20 12 12 38 17 22 15-358 0 7-14 4-5 4-3 24 2 40-1 56-10 65-8 16-3 16-7z"/>
<path fill="#64cd0f" d="M1585 1610l19-3 12 1 26 10 34 7 17 9-324 0 26-1 84-12 73-6z"/>
<path fill="#8cd80c" d="M1589 1630l27-1 38 5-86 0z"/>
</g>
</g>
<g clip-path="url(#c32)" shape-rendering="crispEdges">
<g transform="scale(0.25)">
<rect x="2037" y="1300" width="712" height="337" fill="#c0e4f6"/>
<path fill="#dcf0f9" d="M2040 1303l706 0 0 331-706 0z"/>
<path fill="#eef7fc" d="M2040 1303l706 0 0 331-561 0 6-4 2-4-1-4-8-5-16-3-16 2-9 6-1 4 1 4 6 4-109 0zM2413 1610l-6 4 2 4 12 4 16-2 4-2 3-4-3-4-8-3-8 0z"/>
<path fill="#ffffff" d="M2040 1303l706 0 0 331-316 0 21-4 14-6 5-6 0-4-2-4-11-7-16-5-16-1-36-1-24 1-25 3-20 5-10 5-3 4 0 4 5 6 16 6 21 4-143 0 5-8-1-4-6-7-16-7-20-2-20 2-11 6-5 5-4 7 3 8-91 0zM2052 1397l-4 4-2 6 2 7 8 6 8-1 4-3 3-5-1-8-6-7-8-1zM2397 1378l-4 1-5 4-1 8 2 4 4 4 4 1 8-3 3-6 0-4-3-6zM2709 1610l-2 8 0 8 2 6 5 2 4-7 0-9-4-10z"/>
<path fill="#fffae6" d="M2258 1395l10-3 12 2 10 5 6 6 5 10 2 8-5 24 0 4 2 2 8 2 32 1 11 3 7 3 1 4-1 4-12 12-11 24-6 8-5 4-8 3-8 0-8-3-8-8-4-8-2-8 1-12 3-16 0-4-2-3-4-2-20-1-8-2-9-7-6-8-3-12 2-14 6-10zM2729 1423l5 0 4 3 3 13-1 16-2 5-4 4-4 0-4-4-5-13 2-16 3-5zM2552 1439l1-4 4 0 2 4 1 8-3 5-4-1-2-4zM2575 1443l2-2 4 1 1 5-5 2-2-2zM2649 1482l0-1 2 1 1 4-3 20-8 27-4 9-4 5-1-13 4-20 5-16zM2045 1542l3-3 4 1 4 7 4 31-1 20-3 20-4 10-4 1-4-6-4-16 0-47zM2111 1554l5-3 4 0 3 3 4 8 2 12-1 12-2 8-6 8-4 2-4-2-4-4-3-12 1-20zM2202 1570l6-3 8 0 8 2 3 5-3 5-12 2-10-3-2-4z"/>
</g>
</g>
<g clip-path="url(#c40)" shape-rendering="crispEdges">
<g transform="scale(0.25)">
<rect x="468" y="1707" width="712" height="337" fill="#ffffff"/>
<path fill="#d4d4ff" d="M797 1746l94 2 113 7 120 23 52 5 0 258-706 0 0-238 60-12 121-15 52-18 40-9 16-2z"/>
<path fill="#aaaaff" d="M788 1762l31-4 76 1 105 11 48 10 68 8 60 5 0 248-588 0-10-14-7-18-11-56-5-16-5-10-8-11-8-7-4-1-20 1-20 3-20 9 0-59 52-12 68-8 36-8 20-2 13 2 7 4 21 22 8 6 8 3 12-1 12-7 7-11 4-48 4-12 5-8 7-8 5-3z"/>
<path fill="#8080ff" d="M815 1770l73 0 43 5 141 14 60 10 44 3 0 111-28-4-32-1-8 4-8 9-8 16-4 28 0 76-461 0-10-64 1-8 4-8 8-8 23-16 38-21 16-4 44-6 16-5 14-20 4-16 4-19-1-40 3-12 8-16 3-4z"/>
<path fill="#5555ff" d="M928 1790l55-2 85 6 28 5 40 17 20 4 20 1 0 50-24-5-40 0-12 7-18 28-12 28-11 40-1 72-389 0 1-68 2-4 6-8 13-8 12-3 24 2 32 8 8-1 8-15 14-39 6-8 12-10 8-4 8-1 56 1 8-2 4-4 4-12 7-47 3-12 5-8 5-4z"/>
<path fill="#2a2aff" d="M956 1798l35-3 69 3 18 4 9 4 2 4-1 20-3 12-16 39-16 28-14 48-3 16-1 68-257 0 1-40 6-32 8-36 11-24 7-6 8-3 64 2 11-5 9-9 6-11 7-43 7-21 6-7 6-4z"/>
<path fill="#0000ff" d="M973 1806l22-3 45 1 16 2 8 4-3 8-10 16-6 47-19 52-5 20-2 20-2 68-226 0 1-36 4-32 7-27 8-18 4-4 8-4 56 3 12-4 12-12 19-26 3-12 5-27 5-14 6-6 10-7z"/>
<path fill="#051ee1" d="M983 1822l16-3 15 3 9 8 3 12 0 39-10 30-11 22-4 16-1 24 0 68-199 0 2-36 2-16 6-24 8-15 4-2 12-3 48-3 8-3 8-5 8-9 16-24 24-24 4-8 6-23 4-8 7-8z"/>
<path fill="#0a37b9" d="M935 1917l8-1 16 4 8 7 6 10 7 32 4 72-172 0 4-40 3-12 8-12 8-6 11-6 41-8 16-7 11-9z"/>
<path fill="#0c5a8c" d="M929 1957l10-4 8 2 8 6 4 7 4 13 8 60-142 0 1-16 5-20 4-8 7-8 17-9 44-12z"/>
<path fill="#0a7864" d="M885 1993l26 1 12 3 9 4 11 11 13 29-106 0 3-20 6-16 9-8z"/>
</g>
</g>
<g clip-path="url(#c41)" shape-rendering="crispEdges">
<g transform="scale(0.25)">
<rect x="1252" y="1707" width="712" height="337" fill="#ffffff"/>
<path fill="#d4d4ff" d="M1582 1746l94 2 112 7 121 23 52 5 0 258-706 0 0-238 56-12 112-15 27-6 45-14 33-7 16-2z"/>
<path fill="#aaaaff" d="M1573 1762l31-4 76 1 104 11 35 8 26 4 68 8 48 3 0 248-581 0-9-68 4-11 8 1 4-3 4-9 0-18-4-9-4-1-12 10-15-28-9-11-16-26-4 1-8 11-8 6-28 4-16 6-7 5-5 9 0-48 52-10 8-1 16 2 12-5 40-7 16-7 29-16 47-13 35-19 26-12zM1479 1852l-3 5 1 4 6 5 4-1 4-8 0-4-4-3-4 0z"/>
<path fill="#8080ff" d="M1600 1770l73 0 43 5 145 14 40 8 44 5 12 4 4-1 0 118-12 13-8 2-8-3-4-5-12-17-4 2-8 18-4 1-8-13-4-1-4 3-8 14-6 52-11 28 0 12 4 12-450 0 6-68 4-8 23-28 20-16 12-6 18-6 15-11 8-4 20-7 4 0 8 3 4-1 8-7 4-9 4-23-1-8-7-20-1-12 4-8 17-25 3-3z"/>
<path fill="#5555ff" d="M1712 1790l60-2 89 7 20 4 36 16 24 5 4 2 8 11 4 1 4-3 0 40-12-3-16-2-36 0-12 7-16 25-13 27-12 40-2 24-5 32 2 20-385 0 4-68 7-12 14-9 12-2 21 2 32 8 8-1 8-15 14-39 6-8 12-10 8-4 8-1 56 1 8-2 4-4 4-12 6-47 3-12 6-8 5-4z"/>
<path fill="#2a2aff" d="M1741 1798l35-3 68 3 19 4 9 4 2 4-1 20-4 12-15 39-16 28-14 45-3 19-2 48 0 20-256 0 1-40 6-32 8-36 11-24 7-6 8-3 64 2 11-5 9-9 6-11 7-43 7-21 6-7 6-4z"/>
<path fill="#0000ff" d="M1758 1806l18-2 48 0 17 2 8 4-3 8-10 16-6 47-19 52-5 20-3 20-1 68-226 0 1-36 4-32 7-27 8-18 4-4 8-4 56 3 8-2 7-4 17-20 11-16 3-8 5-31 5-14 6-6 10-7 10-5z"/>
<path fill="#051ee1" d="M1781 1822l15 1 7 3 4 4 4 12 1 23-2 20-10 26-11 22-3 12-2 24 0 72-198 0 2-36 2-16 6-24 8-15 4-2 12-3 52-3 16-7 8-8 12-18 8-9 8-4 12-3 10-8 4-8 1-8-4-27 5-8 12-8z"/>
<path fill="#0a37b9" d="M1719 1933l5-2 12 2 16 6 4 2 4 6 5 26 4 68-172 0 2-28 3-16 6-14 8-9 12-8 12-3 20-3 20-1 8-2 12-6z"/>
<path fill="#0c5a8c" d="M1730 1965l10 2 5 6 11 68-142 0 1-16 5-20 7-12 9-7 8-4 12-2 20 1 12-1z"/>
<path fill="#0a7864" d="M1648 2005l4-2 8 1 16 9 8 1 28-7 8 1 8 5 13 28-105 0 4-21 4-10z"/>
</g>
</g>
<g clip-path="url(#c42)" shape-rendering="crispEdges">
<g transform="scale(0.25)">
<rect x="2037" y="1707" width="712" height="337" fill="#dcf0f9"/>
<path fill="#eef7fc" d="M2040 1710l706 0 0 331-706 0zM2168 1935l-3 6-1 12 4 10 4 1 5-7 1-12-2-8-4-4zM2469 1979l-8 7-9 15-1 8 0 8 2 5 4 3 8 0 5-4 7-9 4-11 1-8-1-9-4-4z"/>
<path fill="#ffffff" d="M2040 1710l706 0 0 100-4-4-4 2-4 14 1 8 3 6 4 3 4-5 0 207-277 0 8-6 8-12 17-34 31-51 16-33 8-24 4-20-2-11-6-4-8 2-12 8-24 27-20 29-41 69-9 20-3 16 2 16 4 8-402 0zM2116 1869l-4 1-4 4-12 25-17 14-12 16-5 20 1 20 5 12 8 12 8 8 12 8 12 5 16 4 16 0 12-2 12-3 12-6 12-10 7-8 7-12 3-12 1-12-2-12-9-20-14-16-17-8-28-6-4-3-12-18zM2637 2012l-6 5-2 4 0 4 4 7 8 4 8 1 12-1 8-4 5-7 0-4-2-4-11-6-12-1z"/>
<path fill="#fffae6" d="M2248 1790l24-3 28 2 20 8 12 9 3 8 1 8-5 31-1 24-2 9-8 12-8 3-4 0-7-4-4-4-5-9-3-19-3-8-10-12-40-9-12-6-7-8-1-4 0-8 6-8 13-8zM2724 1893l6 0 8 6 4 9 1 9-1 12-4 12-4 5-8 2-8-5-4-6-4-16 4-17 4-7zM2685 1917l0-1 4 0 4 17-2 16-2 3-4 1-4-16 1-12z"/>
</g>
</g>
<g clip-path="url(#c50)" shape-rendering="crispEdges">
<g transform="scale(0.25)">
<rect x="468" y="2114" width="712" height="337" fill="#ffffff"/>
<path fill="#d4d4ff" d="M779 2137l88 0 44 4 141 20 16 5 32 18 12 4 64 0 0 260-706 0 0-272 40-1 36-3 48-11 40-5 61-11z"/>
<path fill="#aaaaff" d="M792 2141l39-1 52 2 60 9 117 28 50 22 66 5 0 242-706 0 0-249 44-2 30-4 155-43 48-7z"/>
<path fill="#8080ff" d="M769 2145l42-2 36 0 44 3 36 5 32 7 101 32 48 18 68 9 0 231-706 0 0-235 36-2 36-5 56-17 97-35 40-6z"/>
<path fill="#5555ff" d="M748 2149l47-3 40-1 52 3 32 4 40 9 145 53 20 5 52 7 0 222-706 0 0-223 40-3 36-7 52-17 93-39 20-5z"/>
<path fill="#2a2aff" d="M776 2149l43-2 36 1 44 3 40 7 24 8 81 34 48 17 28 8 56 9 0 214-706 0 0-212 56-7 32-8 40-15 81-39 20-8 40-7z"/>
<path fill="#0000ff" d="M817 2149l70 3 28 3 28 6 16 6 73 35 28 11 52 16 64 12 0 207-706 0 0-202 24-2 32-6 36-10 36-15 81-43 24-10 52-8z"/>
<path fill="#051ee1" d="M772 2153l47-3 40 2 44 4 40 7 20 9 81 41 44 16 1 31 6 12 9 7 12 3 12 0 48-13 0 179-697 0-2-36 5-28 3-36 7-20 8-12 15-8 39-10 24-3 52-1 16-3 13-5 8-10 3-16 0-79 2-4 15-8 16-6 32-7z"/>
<path fill="#0a37b9" d="M800 2153l43 0 55 4 41 7 21 9 2 4 0 44-7 10-16 12-4 5-5 20-1 16 5 8 21 14 20 21 12 7 13 2 20-3 45-21 19-5 20-2 48-2 24-4 0 149-675 0 0-32 3-12 11-20 14-36 11-16 14-14 12-6 20-4 20 1 36 6 29-1 12-3 12-4 11-11 3-8 0-8-11-24-5-27 1-60 13-5 28-6z"/>
<path fill="#0c5a8c" d="M767 2157l44-3 36 0 56 5 21 6 0 52-3 8-15 23-8 28 2 16 6 12 13 14 48 33 11 5 17 5 25-2 44-12 36-13 12-3 64 1 0 116-660 0 1-20 6-20 12-20 16-40 9-12 10-8 12-4 12 0 16 3 28 11 21 0 52-5 9-5 7-6 4-6 5-16 2-20-2-12-10-27-5-20-2-56 13-4z"/>
<path fill="#0a7864" d="M790 2157l49-1 59 5-1 60-6 10-17 17-7 16-3 16 2 12 13 31 6 9 9 8 58 32 19 6 20 3 33-1 88-15 64-1 0 84-647 0 4-24 7-20 20-44 6-9 9-7 7-3 12 0 44 16 29 0 48-7 16-7 13-11 6-8 20-32 3-12-4-32-14-26-6-21-2-16 0-24z"/>
<path fill="#0a9637" d="M786 2161l37-3 37 3 0 56-4 8-13 10-16 7-12-1-13-8-8-8-3-8-5-28zM811 2296l8-2 8 0 12 6 12 12 15 32 9 13 46 27 14 5 60 14 105-3 28 2 24 5 24 8 0 33-638 0 5-24 7-20 16-30 12-13 8-3 8 1 36 12 16 3 33-3 44-7 16-6 15-10 17-14 21-26 7-6z"/>
<path fill="#0cb212" d="M813 2324l10-2 8 2 8 8 16 24 12 14 12 10 24 12 51 16 33 19 8 3 73 2 16 5 16 11-556 0 5-20 9-20 12-20 12-10 12-1 36 10 16 2 25-2 56-10 24-7 20-9 11-9 21-21z"/>
<path fill="#32be14" d="M818 2352l5 0 8 2 32 30 12 9 20 9 40 14 12 6 14 10 14 16-425 0 5-16 7-15 12-16 8-6 4-2 12 1 40 10 25-1 104-22 12-6 28-18z"/>
<path fill="#64cd0f" d="M817 2376l6-1 8 2 44 29 48 20 20 13 9 9-397 0 11-23 8-10 8-5 16 0 40 7 21 0 70-17 46-9z"/>
<path fill="#8cd80c" d="M800 2396l23-3 12 2 36 22 40 16 20 15-370 0 5-11 8-10 12-6 16 1 36 8 21 0 20-4 64-19z"/>
<path fill="#b4e60a" d="M807 2408l16-1 12 3 32 17 32 12 15 9-348 0 8-10 4-4 8-3 20 2 32 9 21 0 20-3 32-8 49-15z"/>
<path fill="#dcf408" d="M792 2428l19-3 16 0 36 13 34 10-192 0zM586 2440l16 2 22 6-51 0 5-5z"/>
</g>
</g>
<g clip-path="url(#c51)" shape-rendering="crispEdges">
<g transform="scale(0.25)">
<rect x="1252" y="2114" width="712" height="337" fill="#ffffff"/>
<path fill="#d4d4ff" d="M1564 2137l92 0 40 4 40 6 55 6 9 2 24 2 4 2 16 2 8 3 33 18 8 2 4 2 64 2 0 260-706 0 0-272 32-1 40-3 49-11 43-6 58-10z"/>
<path fill="#aaaaff" d="M1577 2141l35-1 44 1 52 6 36 7 100 22 38 17 15 4 64 7 0 244-706 0 0-250 32-2 40-6 156-40 49-7z"/>
<path fill="#8080ff" d="M1554 2145l38-2 36 0 48 3 32 4 28 6 108 31 49 18 68 10 0 233-706 0 0-236 36-3 40-8 56-16 92-31 41-6z"/>
<path fill="#5555ff" d="M1532 2149l48-3 36-1 52 2 32 4 40 9 153 52 68 12 0 224-706 0 0-224 32-3 40-8 60-20 88-35 16-4z"/>
<path fill="#2a2aff" d="M1560 2149l44-2 36 1 44 3 40 7 20 6 80 32 61 20 76 16 0 216-706 0 0-213 32-4 44-10 56-21 72-33 24-8 41-7z"/>
<path fill="#0000ff" d="M1602 2149l70 3 28 3 28 6 16 6 36 17 52 21 65 20 64 15 0 208-706 0 0-203 28-3 48-12 56-23 72-36 24-10 53-8z"/>
<path fill="#051ee1" d="M1556 2153l48-3 40 2 44 4 40 7 14 6 38 19 44 20 69 23 8 2-4 8-1 7 1 5 4 4 9 3 15 3 36 1 0 184-706 0 0-168 20 20 8 5 32-3 40-7 41-3 18-4 6-4 5-12 10-12 2-8-2-9-8-22 0-8 3-8 11-20 22-13 24-10 37-6zM1391 2213l7 4 2 4 1 8-4 8-10 6-12 3-12-1-10-4-6-6 0-2 4-1 3-3 29-13 4 0z"/>
<path fill="#0a37b9" d="M1584 2153l44 0 60 4 37 8 12 4 13 8 5 24 4 8 10 12 0 4-8 8-23 15-1 4 1 4 9 8 3 4 0 4-2 5-9 7 2 4 18 12 11 16 6 5 12 1 5-2 5-4 4-12 11-20 4-16 7-16 1-4-1-4-6-3-26-11-5-5 1-4 7-4 17-5 8 0 4 3 29 10 6 4-6 12 0 11 10 24 5 8 6 4 15 5 24 3 28-1 20-4 0 157-706 0 0-102 12-2 24 4 12-2 12-6 26-24 10-5 12-2 24-1 36 6 12 1 24-3 16-6 7-6 2-4 0-8-13-28-9-47 2-20 7-20 5-4 10-4 22-5 32-4z"/>
<path fill="#0c5a8c" d="M1551 2157l45-3 36 0 56 5 21 6 2 56-19 27 0 4 4 8 1 8-2 8-8 12 0 4 5 10 12 11 60 35 16 3 24-3 22-8 39-19 17-5 19 0 60 9 0 123-673 0-5-13-15-11-5-6-2-6 1-8 5-4 20 2 8-1 16-9 8-8 12-28 7-12 9-10 8-6 12-4 12 0 16 3 28 11 16 0 52-4 8-3 9-7 5-8 3-12 1-20-4-12-12-20-9-23-3-16 1-16 11-32 15-4z"/>
<path fill="#0a7864" d="M1575 2157l49-1 59 5 1 60-4 8-17 19-1 4 4 8 1 4-5 12-10 12 0 4 12 30 12 15 16 9 42 18 14 5 16 2 20 0 24-2 85-16 68 6 0 89-651 0 3-16 8-24 24-48 6-9 8-7 8-3 12 0 12 3 28 12 8 2 16 0 16-2 20-4 20-2 13-6 8-7 29-49-2-12-19-49-4-14-1-20 8-32z"/>
<path fill="#0a9637" d="M1570 2161l38-3 37 3 5 56-1 4-5 8-22 19-3 8 5 8 1 4-2 4-6 4-9 1-8-5-13-24-15-16-7-11-3-24zM1593 2296l7-2 8-1 8 2 8 5 12 12 15 32 9 13 11 7 41 21 16 4 44 4 60-4 61 0 28 4 20 6 4 3 4 7 5 31 3 7 4 1-639 0 4-20 7-20 18-34 12-13 8-3 8 1 36 12 16 3 32-3 16-6 16 2 12-3 17-8 20-19 16-11 20-21z"/>
<path fill="#0cb212" d="M1598 2324l10-2 8 2 8 8 16 24 12 14 12 10 25 12 15 5 40 11 28 14 8 2 60 0 21 2 16 7 8 7 7 8-563 0 6-22 8-19 12-19 12-10 12-1 36 10 16 2 24-2 53-9 21-6 27-12 12-9 20-20z"/>
<path fill="#32be14" d="M1603 2352l5 0 8 2 31 30 17 11 58 21 14 7 12 10 13 15-426 0 5-16 11-20 8-11 8-6 4-2 12 1 40 10 24-1 105-22 12-6 28-18z"/>
<path fill="#64cd0f" d="M1602 2376l6-1 8 2 44 29 48 20 20 13 9 9-397 0 7-14 8-12 8-9 8-4 12 1 36 8 24-1 70-17 47-9z"/>
<path fill="#8cd80c" d="M1585 2396l23-3 12 2 16 9 23 16 37 13 11 7 8 8-369 0 9-14 12-9 8 0 48 6 16-1 20-3 69-19z"/>
<path fill="#b4e60a" d="M1594 2408l14-1 8 1 8 4 20 14 36 11 19 11-347 0 7-8 12-5 52 7 24-1z"/>
<path fill="#dcf408" d="M1590 2428l22-1 32 11 28 6 10 4-192 0zM1365 2444l6-2 8 1 27 5-47 0z"/>
</g>
</g>
<g clip-path="url(#c52)" shape-rendering="crispEdges">
<g transform="scale(0.25)">
<rect x="2037" y="2114" width="712" height="337" fill="#c0e4f6"/>
<path fill="#dcf0f9" d="M2040 2117l706 0 0 297-4 2-1 12 1 10 4 1 0 9-706 0z"/>
<path fill="#eef7fc" d="M2040 2117l706 0 0 286-4 1-3 12 0 16 2 16-701 0zM2156 2428l-5 4 1 4 9 4 15-1 5-3 1-4-4-4-6-2-8 0z"/>
<path fill="#ffffff" d="M2040 2117l706 0 0 276-4 1-5 18-1 20 2 16-566 0 12-2 8-4 6-6 1-4-3-5-8-5-20-4-12 1-12 4-7 5-1 4 0 4 3 4 5 3 18 5-122 0zM2328 2419l-8 5 1 4 7 4 20 1 6-1 8-4 0-4-5-4-5-1-12-2zM2425 2420l-14 4 1 4 9 3 20-1 7-2 1-4-10-4z"/>
<path fill="#fffae6" d="M2231 2173l17-4 16 2 40 14 48 12 27 12 15 12 6 12-3 11-12 12-1 4 1 1 44-4 80 1 17-2 4-4 1-4 1-7-4-16 6-8 23-12 44-12 24-3 20 1 20 3 28 9 25 10 8 8 2 4-4 19 11 32 4 28-1 24-6 20-9 20-11 16-16 16-18 12-17 7-20 5-24 2-24-2-24-5-20-8-12-7-10-12-4-12 1-24-7-36 1-28-1-4-4-1-98-7-18-4-10-4-10-7-25 6-32 11-68 3-32-1-32-3-28-6-26-7-26-12-13-12-3-11 3-8 6-8 15-12 20-9 60-12zM2040 2292l0-3 8 2 16 17 12 8 6 8 8 16 7 28 3 24 0 24-4 32-56 0zM2316 2308l4-3 4 1 7 6 3 8 1 8-2 8-5 7-4 2-8-1-4-5-2-7 0-12zM2262 2356l3 0 4 4 0 4-5 4-4-1-2-3 0-4z"/>
<path fill="#feeeb0" d="M2240 2189l12-2 8 1 9 5 8 8 3 8-2 12-6 9-8 6-12 3-12-2-8-6-8-10-2-12 3-8 8-8zM2146 2213l14-2 12 5 5 9-3 8-6 5-8 2-12 0-7-3-5-6-2-6 5-8zM2607 2213l26-2 24 2 16 4 7 4 2 4-2 4-17 12-3 3 0 4 13 20 4 12 1 20-2 16-5 12-6 9-8 8-12 6-12-1-10-6-10-12-6-16-3-16 1-16 4-16 11-20-1-4-6-3-30-12-4-4 1-4 8-4zM2040 2312l12 3 12 10 8 11 9 20 5 20 3 24-1 24-4 24-44 0zM2570 2372l15-3 20 2 9 5 2 8-6 8-9 4-16 3-12-1-11-6-3-4-1-4 3-6z"/>
<path fill="#fedb86" d="M2040 2328l8 1 12 9 9 14 6 16 5 20 1 20-2 20-4 20-35 0z"/>
<path fill="#fdb94c" d="M2040 2344l0-3 4 1 12 7 8 11 6 16 3 16 1 20-3 20-5 16-26 0z"/>
<path fill="#fc9a32" d="M2040 2356l0-2 8 2 8 8 6 12 3 12 2 16-1 16-3 16-6 12-17 0z"/>
<path fill="#f5792a" d="M2040 2368l0-1 4 1 4 2 7 10 4 12 1 16-2 16-4 12-6 8-8 3z"/>
<path fill="#e8502a" d="M2040 2384l4 1 4 4 3 11 1 8-4 17-4 4-4 1z"/>
</g>
</g>
<g clip-path="url(#c60)" shape-rendering="crispEdges">
<g transform="scale(0.25)">
<rect x="468" y="2521" width="712" height="337" fill="#ffffff"/>
<path fill="#d4d4ff" d="M738 2544l85-1 104 1 89 8 160 19 0 284-706 0 0-293 76-3 20-3 52-4z"/>
<path fill="#aaaaff" d="M737 2548l26-2 84 0 100 3 229 28 0 278-706 0 0-282 64-5 80-10z"/>
<path fill="#8080ff" d="M719 2552l36-3 56-1 80 1 48 2 237 30 0 274-689 0 8-32 17-48 3-12 0-12-5-19-8-13-16-7-16-2 0-131 64-6 80-12z"/>
<path fill="#5555ff" d="M742 2552l97-2 104 3 161 23 72 8 0 271-657 0 11-17 12-15 30-28 2-8-1-12-6-24-19-40-10-12-11-8-21-8-17-4-19-2 0-92 60-7 100-16z"/>
<path fill="#2a2aff" d="M800 2552l91 0 56 3 164 25 65 7 0 268-625 0 31-30 12-14 8-12 3-12-3-32-4-8-20-21-22-35-10-11-16-8-60-15 0-67 48-6 76-14 61-8 92-9z"/>
<path fill="#0000ff" d="M735 2556l28-2 68-1 112 4 169 25 64 8 0 265-596 0 22-24 16-29 4-11 3-24 0-12-2-8-5-8-32-34-18-26-10-10-24-15-64-31 0-28 44-7 116-21z"/>
<path fill="#051ee1" d="M756 2556l87-1 100 3 165 27 68 7 0 263-572 0 14-20 15-32 12-36 1-16-5-12-19-27-39-49-11-12-28-23-12-24-3-12 5-2 2-2 90-18 57-8z"/>
<path fill="#0a37b9" d="M725 2560l38-3 60-1 116 4 28 3 145 25 64 7 0 260-553 0 30-64 9-24 1-16-4-16-13-29-8-16-20-28-24-27-5-7-1-48 58-11z"/>
<path fill="#0c5a8c" d="M742 2560l93-3 108 5 165 28 68 8 0 257-537 0 37-88 2-16-11-48-8-24-13-24-22-24-4-7-5-20 0-24 3-4 24-5z"/>
<path fill="#0a7864" d="M767 2560l84-1 100 5 201 36 24 12 0 243-524 0 16-44 19-32 16-21 4-3 10 8 22 12 12 5 12 2 8-2 6-5 4-8 2-12-1-4-7-6-8-3-8-1-27 2-12 4-13 8-4-3-8-18-14-51-18-36-16-23-8-16-3-12-1-20 18-4 34-5z"/>
<path fill="#0a9637" d="M732 2564l43-3 60-1 76 3 44 3 135 26 14 4 8 5 36 14 28 14 0 226-516 0 8-24 7-16 12-15 12-10 4-1 8 0 40 10 20 0 11-4 5-4 8-16 2-20-1-4-6-8-19-12-40-10-13-10-29-48-30-63-1-24 7-4z"/>
<path fill="#0cb212" d="M749 2564l94-3 76 4 40 4 116 23 7 8 14 8 48 20 32 9 0 218-510 0 9-22 8-14 8-9 8-4 12-2 40 6 20 1 12-3 12-4 8-6 6-7 3-36-4-8-8-8-29-22-28-18-27-28-11-16-12-31-14-28-1-24z"/>
<path fill="#32be14" d="M776 2564l63-1 92 4 28 3 47 10 6 2 14 2 2 2 4 2 0 4 5 4 73 32 30 9 36 8 0 210-503 0 11-24 7-8 8-5 16-1 44 5 24-2 18-5 25-12 15-8 5-4 2-4 3-28-2-8-5-4-25-9-12-7-36-36-33-28-7-8-4-8-11-35-10-20-1-24 10-1 8-3z"/>
<path fill="#64cd0f" d="M764 2568l71-4 76 3 46 5 2 2 11 2 1 16 7 4 63 20 44 19 91 22 0 198-497 0 12-19 12-8 60 6 20-1 20-4 16-5 59-25 9-7 4-9 12-56 0-8-5-8-7-5-8-2-56 11-8 0-4-2-14-14-18-29-24-18-8-9-5-12-1-11 5-12 12-12 2-4z"/>
<path fill="#8cd80c" d="M823 2568l56-1 38 5 0 20 4 4 13 4 33 6 17 6 15 8 37 25 36 17 8 5 7 12 0 16-7 29-12 27-1 8 3 12 14 36 12 48-410 0 9-11 8-4 52 4 20 0 36-2 20-5 31-18 25-12 8-6 9-10 15-32 7-24 0-20-5-12-14-20-14-28-6-5-8-4-52-13-13-5-3-4 0-4 11-24z"/>
<path fill="#b4e60a" d="M914 2616l13-3 16 0 16 3 7 4 3 4-2 15-2 8-5 8-5 4-12 3-8-1-4-3-16-20-6-10 0-8zM962 2771l38 1 8 3 12 7 20 18 13 15 14 20 9 20-253 0 8-1 8-4 52-34 16-13 16-20 8-7 8-4zM701 2851l14-1 52 5-72 0z"/>
<path fill="#dcf408" d="M932 2795l7-3 24 1 37 5 16 5 12 7 8 8 22 37-205 0 38-26z"/>
<path fill="#ffff00" d="M929 2811l6-3 12 0 40 2 21 3 8 4 8 7 8 11 12 20-173 0 24-15 24-22z"/>
<path fill="#ffd500" d="M936 2823l27 0 41 3 13 9 15 20-139 0 30-25z"/>
<path fill="#ffaa00" d="M930 2843l9-3 61 1 8 3 12 11-108 0z"/>
</g>
</g>
<g clip-path="url(#c61)" shape-rendering="crispEdges">
<g transform="scale(0.25)">
<rect x="1252" y="2521" width="712" height="337" fill="#ffffff"/>
<path fill="#d4d4ff" d="M1523 2544l105-2 96 3 237 27 0 283-706 0 0-292 76-4 72-7 44-2z"/>
<path fill="#aaaaff" d="M1522 2548l26-2 68-1 60 1 48 3 237 29 0 277-706 0 0-282 64-5 84-11z"/>
<path fill="#8080ff" d="M1504 2552l36-3 44-1 120 2 40 4 160 22 57 6 0 273-706 0 0-275 60-6 88-13z"/>
<path fill="#5555ff" d="M1525 2552l87-2 64 1 48 3 169 23 68 8 0 270-706 0 0-91 4-1 8 1 8 5 20 16 8 2 12-6 12-11 11-15 3-8-2-12-6-20-6-10-8-8-24-10-20-3-20-1 0-97 56-7 104-17z"/>
<path fill="#2a2aff" d="M1557 2552l111 0 60 4 161 24 72 8 0 267-636 0 18-36 16-17 7-11 6-20 2-20-3-8-25-44-8-12-7-6-12-7-12-4-52-11 0-68 54-7 106-19 105-11z"/>
<path fill="#0000ff" d="M1516 2556l32-3 60 0 68 1 48 3 171 27 66 7 0 264-605 0 11-19 17-45 8-36-2-12-14-28-20-32-9-10-20-18-12-21-8-6-24-3-16-10-12-5 0-14 48-7 100-20z"/>
<path fill="#051ee1" d="M1533 2556l91-2 100 5 169 27 68 7 0 262-583 0 4-12 6-28 20-60 0-8-29-63-33-53-6-31-6-12 5-1 4-3 68-14 56-8z"/>
<path fill="#0a37b9" d="M1505 2560l39-3 52-1 116 3 36 5 149 25 64 7 0 259-566 0 3-36 6-16 11-22 8-8 15-10 2-4 1-8-6-11-16-17-16-36-20-56 0-35-5-16 14-4 31-6z"/>
<path fill="#0c5a8c" d="M1520 2560l32-2 64-1 64 2 44 3 169 29 68 8 0 256-549 0 0-28 3-14 8-10 12-5 9-7 13-20 4-8 2-8-3-16-13-36-8-16-14-24-14-32-4-19-3-24-3-8 2-4 21-4z"/>
<path fill="#0a7864" d="M1542 2560l98-1 56 2 40 4 153 29 17 2 43 18 12 6 0 235-530 0 6-24 5-12 25-33 4-3 16-2 12-10 5-3 4 0 28 12 16 1 8-4 4-4 4-8 1-10-5-8-12-6-20 0-28 4-9-4-16-13-6-13-27-76-16-31-5-24-5-8 43-8z"/>
<path fill="#0a9637" d="M1512 2564l36-3 72-1 68 3 48 4 132 25 10 8 11 5 72 27 0 223-518 0 5-20 7-15 8-12 8-6 33-10 32 6 12-1 24-11 4-3 4-8 1-20-1-6-4-6-8-6-12-6-40-8-16-8-13-16-17-36-7-35-13-28-3-17-5-7 6-4z"/>
<path fill="#0cb212" d="M1531 2564l57-2 44 0 68 3 44 5 72 14 8 2 13 2 11 12 25 12 48 19 40 8 0 216-511 0 12-28 5-8 8-7 12-3 17-3 36 5 20-1 8-3 14-8 6-6 2-6-1-36-9-16-24-18-24-9-16-10-12-9-13-14-6-16 1-24-1-11-14-27-3-17-7-8z"/>
<path fill="#32be14" d="M1564 2564l56-1 64 2 56 6 12 3 13 2 3 3 10 1-26 11-2 1 2 0 72 17 61 23 36 10 40 5 0 208-504 0 10-22 12-11 8-3 17 0 24 7 12 1 36-8 12-5 8-8 5-11 5-20 6-8 4 0 4 4 8 19 4 1 8-15 4-4 9-5 3-4 2-8-1-8-5-6-8-2-32 0-20-7-28-30-8-5-16-5-8-4-15-13-8-12-1-8 2-24-2-19-6-32-3-4-7-4 7-1 7-3z"/>
<path fill="#64cd0f" d="M1557 2568l47-3 56 1 35 2 25 4-8 11-4 9 2 4 6 4 12 4 32 6 36 9 52 23 25 6 26 3 6 4 1 4 1 28 6 12 4 2 4-2 2-4 7-20 5-8 6-2 20 2 0 111-24 2-6 3-3 4 0 4 3 4 6 3 24-2 0 59-498 0 8-14 12-9 12-1 37 7 28-2 22-5 10-4 4-4 12-19 4-3 16 10 8-1 4-5 4-9 4 0 4 5 4 2 12-2 13-10 18-32 2-20-1-20-7-12-9-7-8-4-8-1-64 15-8-4-7-7-15-24-6-7-8-4-16 4-4 0-4-4-2-9 4-35 6-8 16-12 5-8-2-12z"/>
<path fill="#8cd80c" d="M1621 2568l49 0 16 4-7 12-4 12 1 8 4 3 47 9 14 4 4 4 7 15 8 8 18 8 14 10 12 6 16 5 24 3 4 3 3 9-3 9-4 5-20 8-6 6-1 16 1 24 22 32 38 40 5 12-1 12-412 0 9-11 8-3 57 5 36-2 16-3 16-12 16 0 20-10 28-10 15-10 21-18 8-5 16-5 15-12 12-32-3-12-5-12-11-10-8-3-12 0-8-4-8-8-7-11-6-16-4-8-22-19-2-4-15-8-8-7-11-21z"/>
<path fill="#b4e60a" d="M1755 2787l13-2 16 1 12 3 12 7 15 11 17 18 25 10 4 8-2 12-281 0 22-2 12-2 92-52 8-4zM1486 2851l13 0 42 4-62 0z"/>
<path fill="#dcf408" d="M1755 2803l29 0 12 3 8 4 12 9 28 36-206 0 18-12 52-30 12-5z"/>
<path fill="#ffff00" d="M1760 2815l24 0 13 4 7 5 8 9 15 22-170 0 55-32 12-3z"/>
<path fill="#ffd500" d="M1745 2831l23-2 20 1 12 7 15 18-135 0 24-15 12-5z"/>
<path fill="#ffaa00" d="M1736 2847l28-3 20 0 8 3 11 8-100 0 17-7z"/>
</g>
</g>
<g clip-path="url(#c62)" shape-rendering="crispEdges">
<g transform="scale(0.25)">
<rect x="2037" y="2521" width="712" height="337" fill="#3f80c4"/>
<path fill="#5ca8dc" d="M2040 2524l706 0 0 331-706 0zM2517 2609l-4 7 0 4 4 4 8 0 3-4 1-4-2-4-6-4z"/>
<path fill="#80c4ea" d="M2040 2524l706 0 0 331-706 0zM2513 2594l-8 6-5 8-2 12 2 8 5 5 8 5 8 1 12-3 6-5 5-7 1-8-2-8-6-8-8-6-8-1zM2501 2771l-5 8-1 16 2 7 4 6 4 2 4 0 4-3 4-7 2-9-1-8-3-8-3-4-7-2z"/>
<path fill="#a0d8f2" d="M2040 2524l706 0 0 331-706 0zM2517 2584l-12 4-9 8-7 12-1 16 5 11 8 8 12 4 12 1 15-5 10-8 5-7 2-12-4-12-9-12-11-7zM2501 2753l-7 6-5 10-3 14 0 12 3 12 4 8 8 8 8 1 8-4 6-9 4-12 1-16-4-16-7-10-8-5z"/>
<path fill="#c0e4f6" d="M2040 2524l706 0 0 331-706 0zM2521 2576l-19 4-13 9-9 15-4 20 3 11 10 11 16 9 16 3 20-5 17-10 13-12 3-11-5-16-6-8-8-8-14-9zM2497 2739l-9 8-7 16-3 16 1 16 3 16 7 13 8 9 4 2 8 1 12-6 10-15 5-20 0-20-6-20-9-13-12-6z"/>
<path fill="#dcf0f9" d="M2040 2524l706 0 0 331-706 0zM2501 2572l-17 8-13 12-8 16-5 20 2 7 7 8 30 22 12 6 12 3 12-2 52-26 64-13 5-2 4-3 1-4-2-4-10-8-18-8-36-10-44-20-24-6-12 1zM2701 2667l-2 8 2 10 4-4 1-6-1-4zM2501 2715l-12 8-7 8-5 10-6 22-1 24 4 24 9 20 6 7 8 6 12 3 8-2 8-6 13-16 8-24 2-24-1-12-4-16-11-20-7-7-8-5-8-2zM2657 2662l-4 4-4 9-2 16 2 11 4 9 4 3 4 1 6-4 4-8 2-8 0-12-3-12-5-7-4-3z"/>
<path fill="#eef7fc" d="M2040 2524l706 0 0 331-223 0 15-12 23-28 12-11 12-4 36-5 20-7 24-13 18-16 26-35 6-13 4-16 0-12-3-36 8-27-3-8-8-8-15-8-21-7-32-7-60-8-44-12-20-2-16 2-16 5-43 21-11 8-16 16-7 8-3 8 5 7 37 20 6 4 7 8 2 8-1 8-7 36-2 20 0 20 2 24 5 24 7 20 11 17 11 11-452 0zM2092 2623l-4 5 1 7 4 4 7 0 5-4 1-7-2-4-4-2zM2268 2752l-5 11 0 20 1 10 4 6 4 1 5-9 1-20-4-16-2-3zM2296 2827l-5 4 1 4 8 4 20 1 6-1 7-4 1-4-10-5-16-2zM2709 2814l-4 5-1 12 5 11 9 3 4-2 4-4 2-8-1-8-5-9-8-2z"/>
<path fill="#ffffff" d="M2040 2524l706 0 0 62-32-8-41-8-32-5-56-5-48-10-16-1-20 3-40 12-24 4-150 8-67 8-24 6-36-3-56 1-28 4-24 8-6 4-2 4 4 4 16 10 15 21 13 8 8 0 8-2 16-12 8-3 20-2 12-4 8-5 20-20 8-2 8 4 21 23 11 6 8 1 28-3 24 0 20-3 8 2 20 13 33 7 21 8 5 4 3 8-6 32 1 12 4 16 12 31 4 4 8 3 6 6 4 12 3 20 2 8 11 20 13 20-432 0zM2268 2737l-4 3-4 11-3 28 3 23 12 32 12 7 20 5 24-1 16-6 3-4 1-4-4-4-12-6-20-2-28 2-5-2-1-4 6-28 0-24-6-20-6-6zM2744 2779l2-2 0 78-19 0 7-8 4-12 1-12-2-28 2-8zM2639 2819l10-1 8 0 20 7 8 5 11 17 9 8-149 0 13-4 32-3 8-6 13-15 7-5z"/>
<path fill="#fffae6" d="M2310 2556l38-3 3 3-18 4-59 8-24 0 12-4zM2193 2651l11 0 12 7 8 9 5 16 3 57 9 67-3 28-8 20-190 0 0-164 12 3 8 6 10 11 18 26 12 11 8 2 12 2 20 1 8-2 8-5 8-14 12-65 8-11zM2314 2651l6 0 8 3 5 5 3 8 0 12-2 12-4 8-6 6-8 3-12-1-20 2-20-7-10-11-3-8 0-8 3-8 9-8 13-5 24 1zM2372 2739l1-1 4 3 4 22 4 4 8-7 4 0 7 7 4 12 3 20-2 24-4 16-4 6-4 2-4 0-7-8-4-12-5-27-6-9 1-8-4-24 1-12zM2428 2783l5 0 2 4 2 8-3 12-1 2-4 1-4-4-2-7 0-8zM2346 2787l10 1 8 3 4 4-4 4-8 4-8 1-8-2-4-3-2-4 2-4zM2636 2831l5-2 8-1 10 3 7 8 0 8-2 4-4 4-25 0-5-4-2-8 3-8z"/>
<path fill="#feeeb0" d="M2309 2663l7-3 4 0 4 2 4 5 1 8-2 8-3 7-4 3-4 0-12-4-16 4-8 0-8-5-2-5-1-8 2-4 5-5 8-2 16 3zM2198 2671l6 1 4 5 6 14 8 56 9 48 1 16-2 16-5 16-8 12-48 0-17-15-8-5-8-2-16-1-12 1-8 3-8 6-9 13-43 0 0-137 12 4 8 6 24 34 12 12 12 3 36 0 8-4 8-6 11-16 6-16 10-48 5-11zM2372 2755l1-2 2 6-2 6zM2390 2771l3-3 4 0 4 4 4 9 2 10 0 16-1 12-4 12-5 5-4-1-4-4-4-12-2-12 0-20zM2428 2787l5 1 1 7-1 8-4 1-3-9zM2637 2835l8-4 8 1 5 3 3 4 0 8-8 6-12 0-4-2-4-6 1-6z"/>
<path fill="#fedb86" d="M2199 2715l5 5 17 59 4 20 0 16-5 20-8 13-12 7-12 0-12-6-10-10-12-20-2-12 3-12 25-40 16-38zM2040 2739l0-1 8 2 13 11 16 28 8 20 0 16-15 40-30 0zM2390 2779l3-3 4 0 3 3 4 16-1 20-2 8-4 4-4-1-3-3-4-16 0-16zM2639 2839l6-4 4 0 6 4 2 4-4 5-8 2-6-3-1-4z"/>
<path fill="#fdb94c" d="M2040 2759l0-3 4 0 6 3 6 6 8 14 6 16 1 12-1 16-4 16-7 16-19 0zM2190 2759l6-4 4 1 8 8 8 19 4 20-1 16-6 16-9 10-8 2-12-2-8-7-8-11-4-16 1-12 5-12 10-16zM2391 2787l2-2 4-2 4 8 0 16-4 12-4-2-4-10 0-12z"/>
<path fill="#fc9a32" d="M2196 2771l4 1 4 3 5 8 4 12 2 16-3 12-4 8-8 7-8 1-8-3-7-9-4-8-1-12 2-12 6-11 8-9zM2040 2775l4 0 4 2 5 6 5 12 2 16-2 16-4 12-6 9-8 4zM2394 2799l3-3 0 10-3-3z"/>
<path fill="#f5792a" d="M2188 2787l8-3 4 1 5 6 3 10 1 10-2 8-5 8-6 3-4 0-5-3-4-4-3-8-1-8 2-8z"/>
<path fill="#e8502a" d="M2191 2803l1-2 4-1 2 3 1 8-3 5-4 0-2-5z"/>
</g>
</g>
<g fill="none" stroke="#000" stroke-width="1.1">
<rect x="117.5" y="20.5" width="176.5" height="82.8"/>
<path d="M117.5 103.3v4.5M117.5 20.5v-4.5M146.9 103.3v4.5M146.9 20.5v-4.5M176.3 103.3v4.5M176.3 20.5v-4.5M205.8 103.3v4.5M205.8 20.5v-4.5M235.2 103.3v4.5M235.2 20.5v-4.5M264.6 103.3v4.5M264.6 20.5v-4.5M294 103.3v4.5M294 20.5v-4.5M117.5 38.8h-4.5M294 38.8h4.5M117.5 54.9h-4.5M294 54.9h4.5M117.5 71.1h-4.5M294 71.1h4.5M117.5 87.2h-4.5M294 87.2h4.5M117.5 103.3h-4.5M294 103.3h4.5"/>
<rect x="313.7" y="20.5" width="176.5" height="82.8"/>
<path d="M313.7 103.3v4.5M313.7 20.5v-4.5M343.1 103.3v4.5M343.1 20.5v-4.5M372.5 103.3v4.5M372.5 20.5v-4.5M401.9 103.3v4.5M401.9 20.5v-4.5M431.4 103.3v4.5M431.4 20.5v-4.5M460.8 103.3v4.5M460.8 20.5v-4.5M490.2 103.3v4.5M490.2 20.5v-4.5M313.7 38.8h-4.5M490.2 38.8h4.5M313.7 54.9h-4.5M490.2 54.9h4.5M313.7 71.1h-4.5M490.2 71.1h4.5M313.7 87.2h-4.5M490.2 87.2h4.5M313.7 103.3h-4.5M490.2 103.3h4.5"/>
<rect x="509.9" y="20.5" width="176.5" height="82.8"/>
<path d="M509.9 103.3v4.5M509.9 20.5v-4.5M539.3 103.3v4.5M539.3 20.5v-4.5M568.7 103.3v4.5M568.7 20.5v-4.5M598.1 103.3v4.5M598.1 20.5v-4.5M627.6 103.3v4.5M627.6 20.5v-4.5M657 103.3v4.5M657 20.5v-4.5M686.4 103.3v4.5M686.4 20.5v-4.5M509.9 38.8h-4.5M686.4 38.8h4.5M509.9 54.9h-4.5M686.4 54.9h4.5M509.9 71.1h-4.5M686.4 71.1h4.5M509.9 87.2h-4.5M686.4 87.2h4.5M509.9 103.3h-4.5M686.4 103.3h4.5"/>
<rect x="117.5" y="122.2" width="176.5" height="82.8"/>
<path d="M117.5 205v4.5M117.5 122.2v-4.5M146.9 205v4.5M146.9 122.2v-4.5M176.3 205v4.5M176.3 122.2v-4.5M205.8 205v4.5M205.8 122.2v-4.5M235.2 205v4.5M235.2 122.2v-4.5M264.6 205v4.5M264.6 122.2v-4.5M294 205v4.5M294 122.2v-4.5M117.5 140.6h-4.5M294 140.6h4.5M117.5 156.7h-4.5M294 156.7h4.5M117.5 172.8h-4.5M294 172.8h4.5M117.5 188.9h-4.5M294 188.9h4.5M117.5 205h-4.5M294 205h4.5"/>
<rect x="313.7" y="122.2" width="176.5" height="82.8"/>
<path d="M313.7 205v4.5M313.7 122.2v-4.5M343.1 205v4.5M343.1 122.2v-4.5M372.5 205v4.5M372.5 122.2v-4.5M401.9 205v4.5M401.9 122.2v-4.5M431.4 205v4.5M431.4 122.2v-4.5M460.8 205v4.5M460.8 122.2v-4.5M490.2 205v4.5M490.2 122.2v-4.5M313.7 140.6h-4.5M490.2 140.6h4.5M313.7 156.7h-4.5M490.2 156.7h4.5M313.7 172.8h-4.5M490.2 172.8h4.5M313.7 188.9h-4.5M490.2 188.9h4.5M313.7 205h-4.5M490.2 205h4.5"/>
<rect x="509.9" y="122.2" width="176.5" height="82.8"/>
<path d="M509.9 205v4.5M509.9 122.2v-4.5M539.3 205v4.5M539.3 122.2v-4.5M568.7 205v4.5M568.7 122.2v-4.5M598.1 205v4.5M598.1 122.2v-4.5M627.6 205v4.5M627.6 122.2v-4.5M657 205v4.5M657 122.2v-4.5M686.4 205v4.5M686.4 122.2v-4.5M509.9 140.6h-4.5M686.4 140.6h4.5M509.9 156.7h-4.5M686.4 156.7h4.5M509.9 172.8h-4.5M686.4 172.8h4.5M509.9 188.9h-4.5M686.4 188.9h4.5M509.9 205h-4.5M686.4 205h4.5"/>
<rect x="117.5" y="224" width="176.5" height="82.8"/>
<path d="M117.5 306.8v4.5M117.5 224v-4.5M146.9 306.8v4.5M146.9 224v-4.5M176.3 306.8v4.5M176.3 224v-4.5M205.8 306.8v4.5M205.8 224v-4.5M235.2 306.8v4.5M235.2 224v-4.5M264.6 306.8v4.5M264.6 224v-4.5M294 306.8v4.5M294 224v-4.5M117.5 242.3h-4.5M294 242.3h4.5M117.5 258.4h-4.5M294 258.4h4.5M117.5 274.5h-4.5M294 274.5h4.5M117.5 290.7h-4.5M294 290.7h4.5M117.5 306.8h-4.5M294 306.8h4.5"/>
<rect x="313.7" y="224" width="176.5" height="82.8"/>
<path d="M313.7 306.8v4.5M313.7 224v-4.5M343.1 306.8v4.5M343.1 224v-4.5M372.5 306.8v4.5M372.5 224v-4.5M401.9 306.8v4.5M401.9 224v-4.5M431.4 306.8v4.5M431.4 224v-4.5M460.8 306.8v4.5M460.8 224v-4.5M490.2 306.8v4.5M490.2 224v-4.5M313.7 242.3h-4.5M490.2 242.3h4.5M313.7 258.4h-4.5M490.2 258.4h4.5M313.7 274.5h-4.5M490.2 274.5h4.5M313.7 290.7h-4.5M490.2 290.7h4.5M313.7 306.8h-4.5M490.2 306.8h4.5"/>
<rect x="509.9" y="224" width="176.5" height="82.8"/>
<path d="M509.9 306.8v4.5M509.9 224v-4.5M539.3 306.8v4.5M539.3 224v-4.5M568.7 306.8v4.5M568.7 224v-4.5M598.1 306.8v4.5M598.1 224v-4.5M627.6 306.8v4.5M627.6 224v-4.5M657 306.8v4.5M657 224v-4.5M686.4 306.8v4.5M686.4 224v-4.5M509.9 242.3h-4.5M686.4 242.3h4.5M509.9 258.4h-4.5M686.4 258.4h4.5M509.9 274.5h-4.5M686.4 274.5h4.5M509.9 290.7h-4.5M686.4 290.7h4.5M509.9 306.8h-4.5M686.4 306.8h4.5"/>
<rect x="117.5" y="325.7" width="176.5" height="82.8"/>
<path d="M117.5 408.5v4.5M117.5 325.7v-4.5M146.9 408.5v4.5M146.9 325.7v-4.5M176.3 408.5v4.5M176.3 325.7v-4.5M205.8 408.5v4.5M205.8 325.7v-4.5M235.2 408.5v4.5M235.2 325.7v-4.5M264.6 408.5v4.5M264.6 325.7v-4.5M294 408.5v4.5M294 325.7v-4.5M117.5 344h-4.5M294 344h4.5M117.5 360.2h-4.5M294 360.2h4.5M117.5 376.3h-4.5M294 376.3h4.5M117.5 392.4h-4.5M294 392.4h4.5M117.5 408.5h-4.5M294 408.5h4.5"/>
<rect x="313.7" y="325.7" width="176.5" height="82.8"/>
<path d="M313.7 408.5v4.5M313.7 325.7v-4.5M343.1 408.5v4.5M343.1 325.7v-4.5M372.5 408.5v4.5M372.5 325.7v-4.5M401.9 408.5v4.5M401.9 325.7v-4.5M431.4 408.5v4.5M431.4 325.7v-4.5M460.8 408.5v4.5M460.8 325.7v-4.5M490.2 408.5v4.5M490.2 325.7v-4.5M313.7 344h-4.5M490.2 344h4.5M313.7 360.2h-4.5M490.2 360.2h4.5M313.7 376.3h-4.5M490.2 376.3h4.5M313.7 392.4h-4.5M490.2 392.4h4.5M313.7 408.5h-4.5M490.2 408.5h4.5"/>
<rect x="509.9" y="325.7" width="176.5" height="82.8"/>
<path d="M509.9 408.5v4.5M509.9 325.7v-4.5M539.3 408.5v4.5M539.3 325.7v-4.5M568.7 408.5v4.5M568.7 325.7v-4.5M598.1 408.5v4.5M598.1 325.7v-4.5M627.6 408.5v4.5M627.6 325.7v-4.5M657 408.5v4.5M657 325.7v-4.5M686.4 408.5v4.5M686.4 325.7v-4.5M509.9 344h-4.5M686.4 344h4.5M509.9 360.2h-4.5M686.4 360.2h4.5M509.9 376.3h-4.5M686.4 376.3h4.5M509.9 392.4h-4.5M686.4 392.4h4.5M509.9 408.5h-4.5M686.4 408.5h4.5"/>
<rect x="117.5" y="427.5" width="176.5" height="82.8"/>
<path d="M117.5 510.3v4.5M117.5 427.5v-4.5M146.9 510.3v4.5M146.9 427.5v-4.5M176.3 510.3v4.5M176.3 427.5v-4.5M205.8 510.3v4.5M205.8 427.5v-4.5M235.2 510.3v4.5M235.2 427.5v-4.5M264.6 510.3v4.5M264.6 427.5v-4.5M294 510.3v4.5M294 427.5v-4.5M117.5 445.8h-4.5M294 445.8h4.5M117.5 461.9h-4.5M294 461.9h4.5M117.5 478h-4.5M294 478h4.5M117.5 494.1h-4.5M294 494.1h4.5M117.5 510.3h-4.5M294 510.3h4.5"/>
<rect x="313.7" y="427.5" width="176.5" height="82.8"/>
<path d="M313.7 510.3v4.5M313.7 427.5v-4.5M343.1 510.3v4.5M343.1 427.5v-4.5M372.5 510.3v4.5M372.5 427.5v-4.5M401.9 510.3v4.5M401.9 427.5v-4.5M431.4 510.3v4.5M431.4 427.5v-4.5M460.8 510.3v4.5M460.8 427.5v-4.5M490.2 510.3v4.5M490.2 427.5v-4.5M313.7 445.8h-4.5M490.2 445.8h4.5M313.7 461.9h-4.5M490.2 461.9h4.5M313.7 478h-4.5M490.2 478h4.5M313.7 494.1h-4.5M490.2 494.1h4.5M313.7 510.3h-4.5M490.2 510.3h4.5"/>
<rect x="509.9" y="427.5" width="176.5" height="82.8"/>
<path d="M509.9 510.3v4.5M509.9 427.5v-4.5M539.3 510.3v4.5M539.3 427.5v-4.5M568.7 510.3v4.5M568.7 427.5v-4.5M598.1 510.3v4.5M598.1 427.5v-4.5M627.6 510.3v4.5M627.6 427.5v-4.5M657 510.3v4.5M657 427.5v-4.5M686.4 510.3v4.5M686.4 427.5v-4.5M509.9 445.8h-4.5M686.4 445.8h4.5M509.9 461.9h-4.5M686.4 461.9h4.5M509.9 478h-4.5M686.4 478h4.5M509.9 494.1h-4.5M686.4 494.1h4.5M509.9 510.3h-4.5M686.4 510.3h4.5"/>
<rect x="117.5" y="529.2" width="176.5" height="82.8"/>
<path d="M117.5 612v4.5M117.5 529.2v-4.5M146.9 612v4.5M146.9 529.2v-4.5M176.3 612v4.5M176.3 529.2v-4.5M205.8 612v4.5M205.8 529.2v-4.5M235.2 612v4.5M235.2 529.2v-4.5M264.6 612v4.5M264.6 529.2v-4.5M294 612v4.5M294 529.2v-4.5M117.5 547.5h-4.5M294 547.5h4.5M117.5 563.6h-4.5M294 563.6h4.5M117.5 579.8h-4.5M294 579.8h4.5M117.5 595.9h-4.5M294 595.9h4.5M117.5 612h-4.5M294 612h4.5"/>
<rect x="313.7" y="529.2" width="176.5" height="82.8"/>
<path d="M313.7 612v4.5M313.7 529.2v-4.5M343.1 612v4.5M343.1 529.2v-4.5M372.5 612v4.5M372.5 529.2v-4.5M401.9 612v4.5M401.9 529.2v-4.5M431.4 612v4.5M431.4 529.2v-4.5M460.8 612v4.5M460.8 529.2v-4.5M490.2 612v4.5M490.2 529.2v-4.5M313.7 547.5h-4.5M490.2 547.5h4.5M313.7 563.6h-4.5M490.2 563.6h4.5M313.7 579.8h-4.5M490.2 579.8h4.5M313.7 595.9h-4.5M490.2 595.9h4.5M313.7 612h-4.5M490.2 612h4.5"/>
<rect x="509.9" y="529.2" width="176.5" height="82.8"/>
<path d="M509.9 612v4.5M509.9 529.2v-4.5M539.3 612v4.5M539.3 529.2v-4.5M568.7 612v4.5M568.7 529.2v-4.5M598.1 612v4.5M598.1 529.2v-4.5M627.6 612v4.5M627.6 529.2v-4.5M657 612v4.5M657 529.2v-4.5M686.4 612v4.5M686.4 529.2v-4.5M509.9 547.5h-4.5M686.4 547.5h4.5M509.9 563.6h-4.5M686.4 563.6h4.5M509.9 579.8h-4.5M686.4 579.8h4.5M509.9 595.9h-4.5M686.4 595.9h4.5M509.9 612h-4.5M686.4 612h4.5"/>
<rect x="117.5" y="630.9" width="176.5" height="82.8"/>
<path d="M117.5 713.7v4.5M117.5 630.9v-4.5M146.9 713.7v4.5M146.9 630.9v-4.5M176.3 713.7v4.5M176.3 630.9v-4.5M205.8 713.7v4.5M205.8 630.9v-4.5M235.2 713.7v4.5M235.2 630.9v-4.5M264.6 713.7v4.5M264.6 630.9v-4.5M294 713.7v4.5M294 630.9v-4.5M117.5 649.3h-4.5M294 649.3h4.5M117.5 665.4h-4.5M294 665.4h4.5M117.5 681.5h-4.5M294 681.5h4.5M117.5 697.6h-4.5M294 697.6h4.5M117.5 713.7h-4.5M294 713.7h4.5"/>
<rect x="313.7" y="630.9" width="176.5" height="82.8"/>
<path d="M313.7 713.7v4.5M313.7 630.9v-4.5M343.1 713.7v4.5M343.1 630.9v-4.5M372.5 713.7v4.5M372.5 630.9v-4.5M401.9 713.7v4.5M401.9 630.9v-4.5M431.4 713.7v4.5M431.4 630.9v-4.5M460.8 713.7v4.5M460.8 630.9v-4.5M490.2 713.7v4.5M490.2 630.9v-4.5M313.7 649.3h-4.5M490.2 649.3h4.5M313.7 665.4h-4.5M490.2 665.4h4.5M313.7 681.5h-4.5M490.2 681.5h4.5M313.7 697.6h-4.5M490.2 697.6h4.5M313.7 713.7h-4.5M490.2 713.7h4.5"/>
<rect x="509.9" y="630.9" width="176.5" height="82.8"/>
<path d="M509.9 713.7v4.5M509.9 630.9v-4.5M539.3 713.7v4.5M539.3 630.9v-4.5M568.7 713.7v4.5M568.7 630.9v-4.5M598.1 713.7v4.5M598.1 630.9v-4.5M627.6 713.7v4.5M627.6 630.9v-4.5M657 713.7v4.5M657 630.9v-4.5M686.4 713.7v4.5M686.4 630.9v-4.5M509.9 649.3h-4.5M686.4 649.3h4.5M509.9 665.4h-4.5M686.4 665.4h4.5M509.9 681.5h-4.5M686.4 681.5h4.5M509.9 697.6h-4.5M686.4 697.6h4.5M509.9 713.7h-4.5M686.4 713.7h4.5"/>
</g>
<g fill="none" stroke="#000" stroke-width="0.65">
<path d="M127.3 103.3v2.3M127.3 20.5v-2.3M137.1 103.3v2.3M137.1 20.5v-2.3M156.7 103.3v2.3M156.7 20.5v-2.3M166.5 103.3v2.3M166.5 20.5v-2.3M186.1 103.3v2.3M186.1 20.5v-2.3M195.9 103.3v2.3M195.9 20.5v-2.3M215.6 103.3v2.3M215.6 20.5v-2.3M225.4 103.3v2.3M225.4 20.5v-2.3M245 103.3v2.3M245 20.5v-2.3M254.8 103.3v2.3M254.8 20.5v-2.3M274.4 103.3v2.3M274.4 20.5v-2.3M284.2 103.3v2.3M284.2 20.5v-2.3M117.5 26.7h-2.3M294 26.7h2.3M117.5 30.8h-2.3M294 30.8h2.3M117.5 34.8h-2.3M294 34.8h2.3M117.5 42.8h-2.3M294 42.8h2.3M117.5 46.9h-2.3M294 46.9h2.3M117.5 50.9h-2.3M294 50.9h2.3M117.5 59h-2.3M294 59h2.3M117.5 63h-2.3M294 63h2.3M117.5 67h-2.3M294 67h2.3M117.5 75.1h-2.3M294 75.1h2.3M117.5 79.1h-2.3M294 79.1h2.3M117.5 83.1h-2.3M294 83.1h2.3M117.5 91.2h-2.3M294 91.2h2.3M117.5 95.2h-2.3M294 95.2h2.3M117.5 99.3h-2.3M294 99.3h2.3"/>
<path d="M323.5 103.3v2.3M323.5 20.5v-2.3M333.3 103.3v2.3M333.3 20.5v-2.3M352.9 103.3v2.3M352.9 20.5v-2.3M362.7 103.3v2.3M362.7 20.5v-2.3M382.3 103.3v2.3M382.3 20.5v-2.3M392.1 103.3v2.3M392.1 20.5v-2.3M411.8 103.3v2.3M411.8 20.5v-2.3M421.6 103.3v2.3M421.6 20.5v-2.3M441.2 103.3v2.3M441.2 20.5v-2.3M451 103.3v2.3M451 20.5v-2.3M470.6 103.3v2.3M470.6 20.5v-2.3M480.4 103.3v2.3M480.4 20.5v-2.3M313.7 26.7h-2.3M490.2 26.7h2.3M313.7 30.8h-2.3M490.2 30.8h2.3M313.7 34.8h-2.3M490.2 34.8h2.3M313.7 42.8h-2.3M490.2 42.8h2.3M313.7 46.9h-2.3M490.2 46.9h2.3M313.7 50.9h-2.3M490.2 50.9h2.3M313.7 59h-2.3M490.2 59h2.3M313.7 63h-2.3M490.2 63h2.3M313.7 67h-2.3M490.2 67h2.3M313.7 75.1h-2.3M490.2 75.1h2.3M313.7 79.1h-2.3M490.2 79.1h2.3M313.7 83.1h-2.3M490.2 83.1h2.3M313.7 91.2h-2.3M490.2 91.2h2.3M313.7 95.2h-2.3M490.2 95.2h2.3M313.7 99.3h-2.3M490.2 99.3h2.3"/>
<path d="M519.7 103.3v2.3M519.7 20.5v-2.3M529.5 103.3v2.3M529.5 20.5v-2.3M549.1 103.3v2.3M549.1 20.5v-2.3M558.9 103.3v2.3M558.9 20.5v-2.3M578.5 103.3v2.3M578.5 20.5v-2.3M588.3 103.3v2.3M588.3 20.5v-2.3M608 103.3v2.3M608 20.5v-2.3M617.8 103.3v2.3M617.8 20.5v-2.3M637.4 103.3v2.3M637.4 20.5v-2.3M647.2 103.3v2.3M647.2 20.5v-2.3M666.8 103.3v2.3M666.8 20.5v-2.3M676.6 103.3v2.3M676.6 20.5v-2.3M509.9 26.7h-2.3M686.4 26.7h2.3M509.9 30.8h-2.3M686.4 30.8h2.3M509.9 34.8h-2.3M686.4 34.8h2.3M509.9 42.8h-2.3M686.4 42.8h2.3M509.9 46.9h-2.3M686.4 46.9h2.3M509.9 50.9h-2.3M686.4 50.9h2.3M509.9 59h-2.3M686.4 59h2.3M509.9 63h-2.3M686.4 63h2.3M509.9 67h-2.3M686.4 67h2.3M509.9 75.1h-2.3M686.4 75.1h2.3M509.9 79.1h-2.3M686.4 79.1h2.3M509.9 83.1h-2.3M686.4 83.1h2.3M509.9 91.2h-2.3M686.4 91.2h2.3M509.9 95.2h-2.3M686.4 95.2h2.3M509.9 99.3h-2.3M686.4 99.3h2.3"/>
<path d="M127.3 205v2.3M127.3 122.2v-2.3M137.1 205v2.3M137.1 122.2v-2.3M156.7 205v2.3M156.7 122.2v-2.3M166.5 205v2.3M166.5 122.2v-2.3M186.1 205v2.3M186.1 122.2v-2.3M195.9 205v2.3M195.9 122.2v-2.3M215.6 205v2.3M215.6 122.2v-2.3M225.4 205v2.3M225.4 122.2v-2.3M245 205v2.3M245 122.2v-2.3M254.8 205v2.3M254.8 122.2v-2.3M274.4 205v2.3M274.4 122.2v-2.3M284.2 205v2.3M284.2 122.2v-2.3M117.5 128.5h-2.3M294 128.5h2.3M117.5 132.5h-2.3M294 132.5h2.3M117.5 136.5h-2.3M294 136.5h2.3M117.5 144.6h-2.3M294 144.6h2.3M117.5 148.6h-2.3M294 148.6h2.3M117.5 152.6h-2.3M294 152.6h2.3M117.5 160.7h-2.3M294 160.7h2.3M117.5 164.7h-2.3M294 164.7h2.3M117.5 168.8h-2.3M294 168.8h2.3M117.5 176.8h-2.3M294 176.8h2.3M117.5 180.9h-2.3M294 180.9h2.3M117.5 184.9h-2.3M294 184.9h2.3M117.5 192.9h-2.3M294 192.9h2.3M117.5 197h-2.3M294 197h2.3M117.5 201h-2.3M294 201h2.3"/>
<path d="M323.5 205v2.3M323.5 122.2v-2.3M333.3 205v2.3M333.3 122.2v-2.3M352.9 205v2.3M352.9 122.2v-2.3M362.7 205v2.3M362.7 122.2v-2.3M382.3 205v2.3M382.3 122.2v-2.3M392.1 205v2.3M392.1 122.2v-2.3M411.8 205v2.3M411.8 122.2v-2.3M421.6 205v2.3M421.6 122.2v-2.3M441.2 205v2.3M441.2 122.2v-2.3M451 205v2.3M451 122.2v-2.3M470.6 205v2.3M470.6 122.2v-2.3M480.4 205v2.3M480.4 122.2v-2.3M313.7 128.5h-2.3M490.2 128.5h2.3M313.7 132.5h-2.3M490.2 132.5h2.3M313.7 136.5h-2.3M490.2 136.5h2.3M313.7 144.6h-2.3M490.2 144.6h2.3M313.7 148.6h-2.3M490.2 148.6h2.3M313.7 152.6h-2.3M490.2 152.6h2.3M313.7 160.7h-2.3M490.2 160.7h2.3M313.7 164.7h-2.3M490.2 164.7h2.3M313.7 168.8h-2.3M490.2 168.8h2.3M313.7 176.8h-2.3M490.2 176.8h2.3M313.7 180.9h-2.3M490.2 180.9h2.3M313.7 184.9h-2.3M490.2 184.9h2.3M313.7 192.9h-2.3M490.2 192.9h2.3M313.7 197h-2.3M490.2 197h2.3M313.7 201h-2.3M490.2 201h2.3"/>
<path d="M519.7 205v2.3M519.7 122.2v-2.3M529.5 205v2.3M529.5 122.2v-2.3M549.1 205v2.3M549.1 122.2v-2.3M558.9 205v2.3M558.9 122.2v-2.3M578.5 205v2.3M578.5 122.2v-2.3M588.3 205v2.3M588.3 122.2v-2.3M608 205v2.3M608 122.2v-2.3M617.8 205v2.3M617.8 122.2v-2.3M637.4 205v2.3M637.4 122.2v-2.3M647.2 205v2.3M647.2 122.2v-2.3M666.8 205v2.3M666.8 122.2v-2.3M676.6 205v2.3M676.6 122.2v-2.3M509.9 128.5h-2.3M686.4 128.5h2.3M509.9 132.5h-2.3M686.4 132.5h2.3M509.9 136.5h-2.3M686.4 136.5h2.3M509.9 144.6h-2.3M686.4 144.6h2.3M509.9 148.6h-2.3M686.4 148.6h2.3M509.9 152.6h-2.3M686.4 152.6h2.3M509.9 160.7h-2.3M686.4 160.7h2.3M509.9 164.7h-2.3M686.4 164.7h2.3M509.9 168.8h-2.3M686.4 168.8h2.3M509.9 176.8h-2.3M686.4 176.8h2.3M509.9 180.9h-2.3M686.4 180.9h2.3M509.9 184.9h-2.3M686.4 184.9h2.3M509.9 192.9h-2.3M686.4 192.9h2.3M509.9 197h-2.3M686.4 197h2.3M509.9 201h-2.3M686.4 201h2.3"/>
<path d="M127.3 306.8v2.3M127.3 224v-2.3M137.1 306.8v2.3M137.1 224v-2.3M156.7 306.8v2.3M156.7 224v-2.3M166.5 306.8v2.3M166.5 224v-2.3M186.1 306.8v2.3M186.1 224v-2.3M195.9 306.8v2.3M195.9 224v-2.3M215.6 306.8v2.3M215.6 224v-2.3M225.4 306.8v2.3M225.4 224v-2.3M245 306.8v2.3M245 224v-2.3M254.8 306.8v2.3M254.8 224v-2.3M274.4 306.8v2.3M274.4 224v-2.3M284.2 306.8v2.3M284.2 224v-2.3M117.5 230.2h-2.3M294 230.2h2.3M117.5 234.2h-2.3M294 234.2h2.3M117.5 238.3h-2.3M294 238.3h2.3M117.5 246.3h-2.3M294 246.3h2.3M117.5 250.4h-2.3M294 250.4h2.3M117.5 254.4h-2.3M294 254.4h2.3M117.5 262.4h-2.3M294 262.4h2.3M117.5 266.5h-2.3M294 266.5h2.3M117.5 270.5h-2.3M294 270.5h2.3M117.5 278.6h-2.3M294 278.6h2.3M117.5 282.6h-2.3M294 282.6h2.3M117.5 286.6h-2.3M294 286.6h2.3M117.5 294.7h-2.3M294 294.7h2.3M117.5 298.7h-2.3M294 298.7h2.3M117.5 302.8h-2.3M294 302.8h2.3"/>
<path d="M323.5 306.8v2.3M323.5 224v-2.3M333.3 306.8v2.3M333.3 224v-2.3M352.9 306.8v2.3M352.9 224v-2.3M362.7 306.8v2.3M362.7 224v-2.3M382.3 306.8v2.3M382.3 224v-2.3M392.1 306.8v2.3M392.1 224v-2.3M411.8 306.8v2.3M411.8 224v-2.3M421.6 306.8v2.3M421.6 224v-2.3M441.2 306.8v2.3M441.2 224v-2.3M451 306.8v2.3M451 224v-2.3M470.6 306.8v2.3M470.6 224v-2.3M480.4 306.8v2.3M480.4 224v-2.3M313.7 230.2h-2.3M490.2 230.2h2.3M313.7 234.2h-2.3M490.2 234.2h2.3M313.7 238.3h-2.3M490.2 238.3h2.3M313.7 246.3h-2.3M490.2 246.3h2.3M313.7 250.4h-2.3M490.2 250.4h2.3M313.7 254.4h-2.3M490.2 254.4h2.3M313.7 262.4h-2.3M490.2 262.4h2.3M313.7 266.5h-2.3M490.2 266.5h2.3M313.7 270.5h-2.3M490.2 270.5h2.3M313.7 278.6h-2.3M490.2 278.6h2.3M313.7 282.6h-2.3M490.2 282.6h2.3M313.7 286.6h-2.3M490.2 286.6h2.3M313.7 294.7h-2.3M490.2 294.7h2.3M313.7 298.7h-2.3M490.2 298.7h2.3M313.7 302.8h-2.3M490.2 302.8h2.3"/>
<path d="M519.7 306.8v2.3M519.7 224v-2.3M529.5 306.8v2.3M529.5 224v-2.3M549.1 306.8v2.3M549.1 224v-2.3M558.9 306.8v2.3M558.9 224v-2.3M578.5 306.8v2.3M578.5 224v-2.3M588.3 306.8v2.3M588.3 224v-2.3M608 306.8v2.3M608 224v-2.3M617.8 306.8v2.3M617.8 224v-2.3M637.4 306.8v2.3M637.4 224v-2.3M647.2 306.8v2.3M647.2 224v-2.3M666.8 306.8v2.3M666.8 224v-2.3M676.6 306.8v2.3M676.6 224v-2.3M509.9 230.2h-2.3M686.4 230.2h2.3M509.9 234.2h-2.3M686.4 234.2h2.3M509.9 238.3h-2.3M686.4 238.3h2.3M509.9 246.3h-2.3M686.4 246.3h2.3M509.9 250.4h-2.3M686.4 250.4h2.3M509.9 254.4h-2.3M686.4 254.4h2.3M509.9 262.4h-2.3M686.4 262.4h2.3M509.9 266.5h-2.3M686.4 266.5h2.3M509.9 270.5h-2.3M686.4 270.5h2.3M509.9 278.6h-2.3M686.4 278.6h2.3M509.9 282.6h-2.3M686.4 282.6h2.3M509.9 286.6h-2.3M686.4 286.6h2.3M509.9 294.7h-2.3M686.4 294.7h2.3M509.9 298.7h-2.3M686.4 298.7h2.3M509.9 302.8h-2.3M686.4 302.8h2.3"/>
<path d="M127.3 408.5v2.3M127.3 325.7v-2.3M137.1 408.5v2.3M137.1 325.7v-2.3M156.7 408.5v2.3M156.7 325.7v-2.3M166.5 408.5v2.3M166.5 325.7v-2.3M186.1 408.5v2.3M186.1 325.7v-2.3M195.9 408.5v2.3M195.9 325.7v-2.3M215.6 408.5v2.3M215.6 325.7v-2.3M225.4 408.5v2.3M225.4 325.7v-2.3M245 408.5v2.3M245 325.7v-2.3M254.8 408.5v2.3M254.8 325.7v-2.3M274.4 408.5v2.3M274.4 325.7v-2.3M284.2 408.5v2.3M284.2 325.7v-2.3M117.5 331.9h-2.3M294 331.9h2.3M117.5 336h-2.3M294 336h2.3M117.5 340h-2.3M294 340h2.3M117.5 348.1h-2.3M294 348.1h2.3M117.5 352.1h-2.3M294 352.1h2.3M117.5 356.1h-2.3M294 356.1h2.3M117.5 364.2h-2.3M294 364.2h2.3M117.5 368.2h-2.3M294 368.2h2.3M117.5 372.2h-2.3M294 372.2h2.3M117.5 380.3h-2.3M294 380.3h2.3M117.5 384.3h-2.3M294 384.3h2.3M117.5 388.4h-2.3M294 388.4h2.3M117.5 396.4h-2.3M294 396.4h2.3M117.5 400.5h-2.3M294 400.5h2.3M117.5 404.5h-2.3M294 404.5h2.3"/>
<path d="M323.5 408.5v2.3M323.5 325.7v-2.3M333.3 408.5v2.3M333.3 325.7v-2.3M352.9 408.5v2.3M352.9 325.7v-2.3M362.7 408.5v2.3M362.7 325.7v-2.3M382.3 408.5v2.3M382.3 325.7v-2.3M392.1 408.5v2.3M392.1 325.7v-2.3M411.8 408.5v2.3M411.8 325.7v-2.3M421.6 408.5v2.3M421.6 325.7v-2.3M441.2 408.5v2.3M441.2 325.7v-2.3M451 408.5v2.3M451 325.7v-2.3M470.6 408.5v2.3M470.6 325.7v-2.3M480.4 408.5v2.3M480.4 325.7v-2.3M313.7 331.9h-2.3M490.2 331.9h2.3M313.7 336h-2.3M490.2 336h2.3M313.7 340h-2.3M490.2 340h2.3M313.7 348.1h-2.3M490.2 348.1h2.3M313.7 352.1h-2.3M490.2 352.1h2.3M313.7 356.1h-2.3M490.2 356.1h2.3M313.7 364.2h-2.3M490.2 364.2h2.3M313.7 368.2h-2.3M490.2 368.2h2.3M313.7 372.2h-2.3M490.2 372.2h2.3M313.7 380.3h-2.3M490.2 380.3h2.3M313.7 384.3h-2.3M490.2 384.3h2.3M313.7 388.4h-2.3M490.2 388.4h2.3M313.7 396.4h-2.3M490.2 396.4h2.3M313.7 400.5h-2.3M490.2 400.5h2.3M313.7 404.5h-2.3M490.2 404.5h2.3"/>
<path d="M519.7 408.5v2.3M519.7 325.7v-2.3M529.5 408.5v2.3M529.5 325.7v-2.3M549.1 408.5v2.3M549.1 325.7v-2.3M558.9 408.5v2.3M558.9 325.7v-2.3M578.5 408.5v2.3M578.5 325.7v-2.3M588.3 408.5v2.3M588.3 325.7v-2.3M608 408.5v2.3M608 325.7v-2.3M617.8 408.5v2.3M617.8 325.7v-2.3M637.4 408.5v2.3M637.4 325.7v-2.3M647.2 408.5v2.3M647.2 325.7v-2.3M666.8 408.5v2.3M666.8 325.7v-2.3M676.6 408.5v2.3M676.6 325.7v-2.3M509.9 331.9h-2.3M686.4 331.9h2.3M509.9 336h-2.3M686.4 336h2.3M509.9 340h-2.3M686.4 340h2.3M509.9 348.1h-2.3M686.4 348.1h2.3M509.9 352.1h-2.3M686.4 352.1h2.3M509.9 356.1h-2.3M686.4 356.1h2.3M509.9 364.2h-2.3M686.4 364.2h2.3M509.9 368.2h-2.3M686.4 368.2h2.3M509.9 372.2h-2.3M686.4 372.2h2.3M509.9 380.3h-2.3M686.4 380.3h2.3M509.9 384.3h-2.3M686.4 384.3h2.3M509.9 388.4h-2.3M686.4 388.4h2.3M509.9 396.4h-2.3M686.4 396.4h2.3M509.9 400.5h-2.3M686.4 400.5h2.3M509.9 404.5h-2.3M686.4 404.5h2.3"/>
<path d="M127.3 510.3v2.3M127.3 427.5v-2.3M137.1 510.3v2.3M137.1 427.5v-2.3M156.7 510.3v2.3M156.7 427.5v-2.3M166.5 510.3v2.3M166.5 427.5v-2.3M186.1 510.3v2.3M186.1 427.5v-2.3M195.9 510.3v2.3M195.9 427.5v-2.3M215.6 510.3v2.3M215.6 427.5v-2.3M225.4 510.3v2.3M225.4 427.5v-2.3M245 510.3v2.3M245 427.5v-2.3M254.8 510.3v2.3M254.8 427.5v-2.3M274.4 510.3v2.3M274.4 427.5v-2.3M284.2 510.3v2.3M284.2 427.5v-2.3M117.5 433.7h-2.3M294 433.7h2.3M117.5 437.7h-2.3M294 437.7h2.3M117.5 441.8h-2.3M294 441.8h2.3M117.5 449.8h-2.3M294 449.8h2.3M117.5 453.8h-2.3M294 453.8h2.3M117.5 457.9h-2.3M294 457.9h2.3M117.5 465.9h-2.3M294 465.9h2.3M117.5 470h-2.3M294 470h2.3M117.5 474h-2.3M294 474h2.3M117.5 482.1h-2.3M294 482.1h2.3M117.5 486.1h-2.3M294 486.1h2.3M117.5 490.1h-2.3M294 490.1h2.3M117.5 498.2h-2.3M294 498.2h2.3M117.5 502.2h-2.3M294 502.2h2.3M117.5 506.2h-2.3M294 506.2h2.3"/>
<path d="M323.5 510.3v2.3M323.5 427.5v-2.3M333.3 510.3v2.3M333.3 427.5v-2.3M352.9 510.3v2.3M352.9 427.5v-2.3M362.7 510.3v2.3M362.7 427.5v-2.3M382.3 510.3v2.3M382.3 427.5v-2.3M392.1 510.3v2.3M392.1 427.5v-2.3M411.8 510.3v2.3M411.8 427.5v-2.3M421.6 510.3v2.3M421.6 427.5v-2.3M441.2 510.3v2.3M441.2 427.5v-2.3M451 510.3v2.3M451 427.5v-2.3M470.6 510.3v2.3M470.6 427.5v-2.3M480.4 510.3v2.3M480.4 427.5v-2.3M313.7 433.7h-2.3M490.2 433.7h2.3M313.7 437.7h-2.3M490.2 437.7h2.3M313.7 441.8h-2.3M490.2 441.8h2.3M313.7 449.8h-2.3M490.2 449.8h2.3M313.7 453.8h-2.3M490.2 453.8h2.3M313.7 457.9h-2.3M490.2 457.9h2.3M313.7 465.9h-2.3M490.2 465.9h2.3M313.7 470h-2.3M490.2 470h2.3M313.7 474h-2.3M490.2 474h2.3M313.7 482.1h-2.3M490.2 482.1h2.3M313.7 486.1h-2.3M490.2 486.1h2.3M313.7 490.1h-2.3M490.2 490.1h2.3M313.7 498.2h-2.3M490.2 498.2h2.3M313.7 502.2h-2.3M490.2 502.2h2.3M313.7 506.2h-2.3M490.2 506.2h2.3"/>
<path d="M519.7 510.3v2.3M519.7 427.5v-2.3M529.5 510.3v2.3M529.5 427.5v-2.3M549.1 510.3v2.3M549.1 427.5v-2.3M558.9 510.3v2.3M558.9 427.5v-2.3M578.5 510.3v2.3M578.5 427.5v-2.3M588.3 510.3v2.3M588.3 427.5v-2.3M608 510.3v2.3M608 427.5v-2.3M617.8 510.3v2.3M617.8 427.5v-2.3M637.4 510.3v2.3M637.4 427.5v-2.3M647.2 510.3v2.3M647.2 427.5v-2.3M666.8 510.3v2.3M666.8 427.5v-2.3M676.6 510.3v2.3M676.6 427.5v-2.3M509.9 433.7h-2.3M686.4 433.7h2.3M509.9 437.7h-2.3M686.4 437.7h2.3M509.9 441.8h-2.3M686.4 441.8h2.3M509.9 449.8h-2.3M686.4 449.8h2.3M509.9 453.8h-2.3M686.4 453.8h2.3M509.9 457.9h-2.3M686.4 457.9h2.3M509.9 465.9h-2.3M686.4 465.9h2.3M509.9 470h-2.3M686.4 470h2.3M509.9 474h-2.3M686.4 474h2.3M509.9 482.1h-2.3M686.4 482.1h2.3M509.9 486.1h-2.3M686.4 486.1h2.3M509.9 490.1h-2.3M686.4 490.1h2.3M509.9 498.2h-2.3M686.4 498.2h2.3M509.9 502.2h-2.3M686.4 502.2h2.3M509.9 506.2h-2.3M686.4 506.2h2.3"/>
<path d="M127.3 612v2.3M127.3 529.2v-2.3M137.1 612v2.3M137.1 529.2v-2.3M156.7 612v2.3M156.7 529.2v-2.3M166.5 612v2.3M166.5 529.2v-2.3M186.1 612v2.3M186.1 529.2v-2.3M195.9 612v2.3M195.9 529.2v-2.3M215.6 612v2.3M215.6 529.2v-2.3M225.4 612v2.3M225.4 529.2v-2.3M245 612v2.3M245 529.2v-2.3M254.8 612v2.3M254.8 529.2v-2.3M274.4 612v2.3M274.4 529.2v-2.3M284.2 612v2.3M284.2 529.2v-2.3M117.5 535.4h-2.3M294 535.4h2.3M117.5 539.5h-2.3M294 539.5h2.3M117.5 543.5h-2.3M294 543.5h2.3M117.5 551.5h-2.3M294 551.5h2.3M117.5 555.6h-2.3M294 555.6h2.3M117.5 559.6h-2.3M294 559.6h2.3M117.5 567.7h-2.3M294 567.7h2.3M117.5 571.7h-2.3M294 571.7h2.3M117.5 575.7h-2.3M294 575.7h2.3M117.5 583.8h-2.3M294 583.8h2.3M117.5 587.8h-2.3M294 587.8h2.3M117.5 591.9h-2.3M294 591.9h2.3M117.5 599.9h-2.3M294 599.9h2.3M117.5 603.9h-2.3M294 603.9h2.3M117.5 608h-2.3M294 608h2.3"/>
<path d="M323.5 612v2.3M323.5 529.2v-2.3M333.3 612v2.3M333.3 529.2v-2.3M352.9 612v2.3M352.9 529.2v-2.3M362.7 612v2.3M362.7 529.2v-2.3M382.3 612v2.3M382.3 529.2v-2.3M392.1 612v2.3M392.1 529.2v-2.3M411.8 612v2.3M411.8 529.2v-2.3M421.6 612v2.3M421.6 529.2v-2.3M441.2 612v2.3M441.2 529.2v-2.3M451 612v2.3M451 529.2v-2.3M470.6 612v2.3M470.6 529.2v-2.3M480.4 612v2.3M480.4 529.2v-2.3M313.7 535.4h-2.3M490.2 535.4h2.3M313.7 539.5h-2.3M490.2 539.5h2.3M313.7 543.5h-2.3M490.2 543.5h2.3M313.7 551.5h-2.3M490.2 551.5h2.3M313.7 555.6h-2.3M490.2 555.6h2.3M313.7 559.6h-2.3M490.2 559.6h2.3M313.7 567.7h-2.3M490.2 567.7h2.3M313.7 571.7h-2.3M490.2 571.7h2.3M313.7 575.7h-2.3M490.2 575.7h2.3M313.7 583.8h-2.3M490.2 583.8h2.3M313.7 587.8h-2.3M490.2 587.8h2.3M313.7 591.9h-2.3M490.2 591.9h2.3M313.7 599.9h-2.3M490.2 599.9h2.3M313.7 603.9h-2.3M490.2 603.9h2.3M313.7 608h-2.3M490.2 608h2.3"/>
<path d="M519.7 612v2.3M519.7 529.2v-2.3M529.5 612v2.3M529.5 529.2v-2.3M549.1 612v2.3M549.1 529.2v-2.3M558.9 612v2.3M558.9 529.2v-2.3M578.5 612v2.3M578.5 529.2v-2.3M588.3 612v2.3M588.3 529.2v-2.3M608 612v2.3M608 529.2v-2.3M617.8 612v2.3M617.8 529.2v-2.3M637.4 612v2.3M637.4 529.2v-2.3M647.2 612v2.3M647.2 529.2v-2.3M666.8 612v2.3M666.8 529.2v-2.3M676.6 612v2.3M676.6 529.2v-2.3M509.9 535.4h-2.3M686.4 535.4h2.3M509.9 539.5h-2.3M686.4 539.5h2.3M509.9 543.5h-2.3M686.4 543.5h2.3M509.9 551.5h-2.3M686.4 551.5h2.3M509.9 555.6h-2.3M686.4 555.6h2.3M509.9 559.6h-2.3M686.4 559.6h2.3M509.9 567.7h-2.3M686.4 567.7h2.3M509.9 571.7h-2.3M686.4 571.7h2.3M509.9 575.7h-2.3M686.4 575.7h2.3M509.9 583.8h-2.3M686.4 583.8h2.3M509.9 587.8h-2.3M686.4 587.8h2.3M509.9 591.9h-2.3M686.4 591.9h2.3M509.9 599.9h-2.3M686.4 599.9h2.3M509.9 603.9h-2.3M686.4 603.9h2.3M509.9 608h-2.3M686.4 608h2.3"/>
<path d="M127.3 713.7v2.3M127.3 630.9v-2.3M137.1 713.7v2.3M137.1 630.9v-2.3M156.7 713.7v2.3M156.7 630.9v-2.3M166.5 713.7v2.3M166.5 630.9v-2.3M186.1 713.7v2.3M186.1 630.9v-2.3M195.9 713.7v2.3M195.9 630.9v-2.3M215.6 713.7v2.3M215.6 630.9v-2.3M225.4 713.7v2.3M225.4 630.9v-2.3M245 713.7v2.3M245 630.9v-2.3M254.8 713.7v2.3M254.8 630.9v-2.3M274.4 713.7v2.3M274.4 630.9v-2.3M284.2 713.7v2.3M284.2 630.9v-2.3M117.5 637.2h-2.3M294 637.2h2.3M117.5 641.2h-2.3M294 641.2h2.3M117.5 645.2h-2.3M294 645.2h2.3M117.5 653.3h-2.3M294 653.3h2.3M117.5 657.3h-2.3M294 657.3h2.3M117.5 661.3h-2.3M294 661.3h2.3M117.5 669.4h-2.3M294 669.4h2.3M117.5 673.4h-2.3M294 673.4h2.3M117.5 677.5h-2.3M294 677.5h2.3M117.5 685.5h-2.3M294 685.5h2.3M117.5 689.6h-2.3M294 689.6h2.3M117.5 693.6h-2.3M294 693.6h2.3M117.5 701.6h-2.3M294 701.6h2.3M117.5 705.7h-2.3M294 705.7h2.3M117.5 709.7h-2.3M294 709.7h2.3"/>
<path d="M323.5 713.7v2.3M323.5 630.9v-2.3M333.3 713.7v2.3M333.3 630.9v-2.3M352.9 713.7v2.3M352.9 630.9v-2.3M362.7 713.7v2.3M362.7 630.9v-2.3M382.3 713.7v2.3M382.3 630.9v-2.3M392.1 713.7v2.3M392.1 630.9v-2.3M411.8 713.7v2.3M411.8 630.9v-2.3M421.6 713.7v2.3M421.6 630.9v-2.3M441.2 713.7v2.3M441.2 630.9v-2.3M451 713.7v2.3M451 630.9v-2.3M470.6 713.7v2.3M470.6 630.9v-2.3M480.4 713.7v2.3M480.4 630.9v-2.3M313.7 637.2h-2.3M490.2 637.2h2.3M313.7 641.2h-2.3M490.2 641.2h2.3M313.7 645.2h-2.3M490.2 645.2h2.3M313.7 653.3h-2.3M490.2 653.3h2.3M313.7 657.3h-2.3M490.2 657.3h2.3M313.7 661.3h-2.3M490.2 661.3h2.3M313.7 669.4h-2.3M490.2 669.4h2.3M313.7 673.4h-2.3M490.2 673.4h2.3M313.7 677.5h-2.3M490.2 677.5h2.3M313.7 685.5h-2.3M490.2 685.5h2.3M313.7 689.6h-2.3M490.2 689.6h2.3M313.7 693.6h-2.3M490.2 693.6h2.3M313.7 701.6h-2.3M490.2 701.6h2.3M313.7 705.7h-2.3M490.2 705.7h2.3M313.7 709.7h-2.3M490.2 709.7h2.3"/>
<path d="M519.7 713.7v2.3M519.7 630.9v-2.3M529.5 713.7v2.3M529.5 630.9v-2.3M549.1 713.7v2.3M549.1 630.9v-2.3M558.9 713.7v2.3M558.9 630.9v-2.3M578.5 713.7v2.3M578.5 630.9v-2.3M588.3 713.7v2.3M588.3 630.9v-2.3M608 713.7v2.3M608 630.9v-2.3M617.8 713.7v2.3M617.8 630.9v-2.3M637.4 713.7v2.3M637.4 630.9v-2.3M647.2 713.7v2.3M647.2 630.9v-2.3M666.8 713.7v2.3M666.8 630.9v-2.3M676.6 713.7v2.3M676.6 630.9v-2.3M509.9 637.2h-2.3M686.4 637.2h2.3M509.9 641.2h-2.3M686.4 641.2h2.3M509.9 645.2h-2.3M686.4 645.2h2.3M509.9 653.3h-2.3M686.4 653.3h2.3M509.9 657.3h-2.3M686.4 657.3h2.3M509.9 661.3h-2.3M686.4 661.3h2.3M509.9 669.4h-2.3M686.4 669.4h2.3M509.9 673.4h-2.3M686.4 673.4h2.3M509.9 677.5h-2.3M686.4 677.5h2.3M509.9 685.5h-2.3M686.4 685.5h2.3M509.9 689.6h-2.3M686.4 689.6h2.3M509.9 693.6h-2.3M686.4 693.6h2.3M509.9 701.6h-2.3M686.4 701.6h2.3M509.9 705.7h-2.3M686.4 705.7h2.3M509.9 709.7h-2.3M686.4 709.7h2.3"/>
</g>
<g font-size="10.4">
<text x="117.2" y="16.2">GEOS+MAM7</text>
<text x="313.4" y="16.2">MAMnet</text>
<text x="509.6" y="16.2">MLB</text>
<text x="294.2" y="16.2" text-anchor="end">mean = 5.772</text>
<text x="490.4" y="16.2" text-anchor="end">mean = 5.770</text>
<text x="686.6" y="16.2" text-anchor="end">mean = -0.003</text>
<text x="58.2" y="67.2" text-anchor="middle">ACC</text>
<text x="105.4" y="42.5" text-anchor="end">200</text>
<text x="105.4" y="58.6" text-anchor="end">400</text>
<text x="105.4" y="74.8" text-anchor="end">600</text>
<text x="105.4" y="90.9" text-anchor="end">800</text>
<text x="105.4" y="107" text-anchor="end">1000</text>
<text x="294.2" y="117.9" text-anchor="end">mean = 7.623</text>
<text x="490.4" y="117.9" text-anchor="end">mean = 7.579</text>
<text x="686.6" y="117.9" text-anchor="end">mean = -0.044</text>
<text x="58.2" y="168.9" text-anchor="middle">AIT</text>
<text x="105.4" y="144.3" text-anchor="end">200</text>
<text x="105.4" y="160.4" text-anchor="end">400</text>
<text x="105.4" y="176.5" text-anchor="end">600</text>
<text x="105.4" y="192.6" text-anchor="end">800</text>
<text x="105.4" y="208.7" text-anchor="end">1000</text>
<text x="294.2" y="219.7" text-anchor="end">mean = 3.188</text>
<text x="490.4" y="219.7" text-anchor="end">mean = 3.173</text>
<text x="686.6" y="219.7" text-anchor="end">mean = -0.015</text>
<text x="58.2" y="270.7" text-anchor="middle">CDU</text>
<text x="105.4" y="246" text-anchor="end">200</text>
<text x="105.4" y="262.1" text-anchor="end">400</text>
<text x="105.4" y="278.2" text-anchor="end">600</text>
<text x="105.4" y="294.4" text-anchor="end">800</text>
<text x="105.4" y="310.5" text-anchor="end">1000</text>
<text x="294.2" y="321.4" text-anchor="end">mean = 3.631</text>
<text x="490.4" y="321.4" text-anchor="end">mean = 3.637</text>
<text x="686.6" y="321.4" text-anchor="end">mean = 0.006</text>
<text x="58.2" y="372.4" text-anchor="middle">CSS</text>
<text x="105.4" y="347.7" text-anchor="end">200</text>
<text x="105.4" y="363.9" text-anchor="end">400</text>
<text x="105.4" y="380" text-anchor="end">600</text>
<text x="105.4" y="396.1" text-anchor="end">800</text>
<text x="105.4" y="412.2" text-anchor="end">1000</text>
<text x="294.2" y="423.2" text-anchor="end">mean = 3.397</text>
<text x="490.4" y="423.2" text-anchor="end">mean = 3.386</text>
<text x="686.6" y="423.2" text-anchor="end">mean = -0.011</text>
<text x="58.2" y="474.2" text-anchor="middle">FDU</text>
<text x="105.4" y="449.5" text-anchor="end">200</text>
<text x="105.4" y="465.6" text-anchor="end">400</text>
<text x="105.4" y="481.7" text-anchor="end">600</text>
<text x="105.4" y="497.8" text-anchor="end">800</text>
<text x="105.4" y="514" text-anchor="end">1000</text>
<text x="294.2" y="524.9" text-anchor="end">mean = 4.265</text>
<text x="490.4" y="524.9" text-anchor="end">mean = 4.302</text>
<text x="686.6" y="524.9" text-anchor="end">mean = 0.037</text>
<text x="58.2" y="575.9" text-anchor="middle">FSS</text>
<text x="105.4" y="551.2" text-anchor="end">200</text>
<text x="105.4" y="567.3" text-anchor="end">400</text>
<text x="105.4" y="583.5" text-anchor="end">600</text>
<text x="105.4" y="599.6" text-anchor="end">800</text>
<text x="105.4" y="615.7" text-anchor="end">1000</text>
<text x="294.2" y="626.6" text-anchor="end">mean = 4.759</text>
<text x="490.4" y="626.6" text-anchor="end">mean = 4.723</text>
<text x="686.6" y="626.6" text-anchor="end">mean = -0.036</text>
<text x="58.2" y="677.6" text-anchor="middle">PCM</text>
<text x="105.4" y="653" text-anchor="end">200</text>
<text x="105.4" y="669.1" text-anchor="end">400</text>
<text x="105.4" y="685.2" text-anchor="end">600</text>
<text x="105.4" y="701.3" text-anchor="end">800</text>
<text x="105.4" y="717.4" text-anchor="end">1000</text>
<text x="117.5" y="733.6" font-size="10.7" text-anchor="middle">90S</text>
<text x="146.9" y="733.6" font-size="10.7" text-anchor="middle">60S</text>
<text x="176.3" y="733.6" font-size="10.7" text-anchor="middle">30S</text>
<text x="205.8" y="733.6" font-size="10.7" text-anchor="middle">0</text>
<text x="235.2" y="733.6" font-size="10.7" text-anchor="middle">30N</text>
<text x="264.6" y="733.6" font-size="10.7" text-anchor="middle">60N</text>
<text x="294" y="733.6" font-size="10.7" text-anchor="middle">90N</text>
<text x="313.7" y="733.6" font-size="10.7" text-anchor="middle">90S</text>
<text x="343.1" y="733.6" font-size="10.7" text-anchor="middle">60S</text>
<text x="372.5" y="733.6" font-size="10.7" text-anchor="middle">30S</text>
<text x="401.9" y="733.6" font-size="10.7" text-anchor="middle">0</text>
<text x="431.4" y="733.6" font-size="10.7" text-anchor="middle">30N</text>
<text x="460.8" y="733.6" font-size="10.7" text-anchor="middle">60N</text>
<text x="490.2" y="733.6" font-size="10.7" text-anchor="middle">90N</text>
<text x="509.9" y="733.6" font-size="10.7" text-anchor="middle">90S</text>
<text x="539.3" y="733.6" font-size="10.7" text-anchor="middle">60S</text>
<text x="568.7" y="733.6" font-size="10.7" text-anchor="middle">30S</text>
<text x="598.1" y="733.6" font-size="10.7" text-anchor="middle">0</text>
<text x="627.6" y="733.6" font-size="10.7" text-anchor="middle">30N</text>
<text x="657" y="733.6" font-size="10.7" text-anchor="middle">60N</text>
<text x="686.4" y="733.6" font-size="10.7" text-anchor="middle">90N</text>
</g>
<text font-size="22" text-anchor="middle" transform="translate(23.6 366.8) rotate(-90)">Pressure (hPa)</text>
<text font-size="22" text-anchor="middle" x="297.6" y="783.1">log10(#/kg_air)</text>
<g stroke="#000" stroke-width="0.6">
<path d="M152.7 741.3L140.2 746.8L152.7 752.2Z" fill="#ffffff"/>
<rect x="152.70" y="741.3" width="12.64" height="10.9" fill="#d4d4ff"/>
<rect x="165.34" y="741.3" width="12.64" height="10.9" fill="#aaaaff"/>
<rect x="177.98" y="741.3" width="12.64" height="10.9" fill="#8080ff"/>
<rect x="190.62" y="741.3" width="12.64" height="10.9" fill="#5555ff"/>
<rect x="203.26" y="741.3" width="12.64" height="10.9" fill="#2a2aff"/>
<rect x="215.90" y="741.3" width="12.64" height="10.9" fill="#0000ff"/>
<rect x="228.54" y="741.3" width="12.64" height="10.9" fill="#051ee1"/>
<rect x="241.18" y="741.3" width="12.64" height="10.9" fill="#0a37b9"/>
<rect x="253.82" y="741.3" width="12.64" height="10.9" fill="#0c5a8c"/>
<rect x="266.46" y="741.3" width="12.64" height="10.9" fill="#0a7864"/>
<rect x="279.10" y="741.3" width="12.64" height="10.9" fill="#0a9637"/>
<rect x="291.74" y="741.3" width="12.64" height="10.9" fill="#0cb212"/>
<rect x="304.38" y="741.3" width="12.64" height="10.9" fill="#32be14"/>
<rect x="317.02" y="741.3" width="12.64" height="10.9" fill="#64cd0f"/>
<rect x="329.66" y="741.3" width="12.64" height="10.9" fill="#8cd80c"/>
<rect x="342.30" y="741.3" width="12.64" height="10.9" fill="#b4e60a"/>
<rect x="354.94" y="741.3" width="12.64" height="10.9" fill="#dcf408"/>
<rect x="367.58" y="741.3" width="12.64" height="10.9" fill="#ffff00"/>
<rect x="380.22" y="741.3" width="12.64" height="10.9" fill="#ffd500"/>
<rect x="392.86" y="741.3" width="12.64" height="10.9" fill="#ffaa00"/>
<rect x="405.50" y="741.3" width="12.64" height="10.9" fill="#ff8000"/>
<rect x="418.14" y="741.3" width="12.64" height="10.9" fill="#ff5500"/>
<rect x="430.78" y="741.3" width="12.64" height="10.9" fill="#ff2a00"/>
<path d="M443.4 741.3L455.6 746.8L443.4 752.2Z" fill="#ff0000"/>
</g>
<g font-size="10.6" text-anchor="middle">
<text x="152.7" y="763.8">3.02</text>
<text x="190.6" y="763.8">3.467</text>
<text x="228.5" y="763.8">3.981</text>
<text x="266.5" y="763.8">4.571</text>
<text x="304.4" y="763.8">5.248</text>
<text x="342.3" y="763.8">6.026</text>
<text x="380.2" y="763.8">6.918</text>
<text x="418.1" y="763.8">7.943</text>
</g>
<g stroke="#000" stroke-width="0.6">
<path d="M709.3 116.1L715.3 89.1L721.3 116.1Z" fill="#8b1a1f"/>
<rect x="709.3" y="116.10" width="12" height="27.08" fill="#b71c27"/>
<rect x="709.3" y="143.18" width="12" height="27.08" fill="#d7262b"/>
<rect x="709.3" y="170.26" width="12" height="27.08" fill="#e8502a"/>
<rect x="709.3" y="197.34" width="12" height="27.08" fill="#f5792a"/>
<rect x="709.3" y="224.42" width="12" height="27.08" fill="#fc9a32"/>
<rect x="709.3" y="251.50" width="12" height="27.08" fill="#fdb94c"/>
<rect x="709.3" y="278.58" width="12" height="27.08" fill="#fedb86"/>
<rect x="709.3" y="305.66" width="12" height="27.08" fill="#feeeb0"/>
<rect x="709.3" y="332.74" width="12" height="27.08" fill="#fffae6"/>
<rect x="709.3" y="359.82" width="12" height="27.08" fill="#ffffff"/>
<rect x="709.3" y="386.90" width="12" height="27.08" fill="#ffffff"/>
<rect x="709.3" y="413.98" width="12" height="27.08" fill="#eef7fc"/>
<rect x="709.3" y="441.06" width="12" height="27.08" fill="#dcf0f9"/>
<rect x="709.3" y="468.14" width="12" height="27.08" fill="#c0e4f6"/>
<rect x="709.3" y="495.22" width="12" height="27.08" fill="#a0d8f2"/>
<rect x="709.3" y="522.30" width="12" height="27.08" fill="#80c4ea"/>
<rect x="709.3" y="549.38" width="12" height="27.08" fill="#5ca8dc"/>
<rect x="709.3" y="576.46" width="12" height="27.08" fill="#3f80c4"/>
<rect x="709.3" y="603.54" width="12" height="27.08" fill="#2560b0"/>
<rect x="709.3" y="630.62" width="12" height="27.08" fill="#204488"/>
<path d="M709.3 657.7L715.3 684.7L721.3 657.7Z" fill="#1a2a68"/>
</g>
<g font-size="10.5" text-anchor="middle">
<text x="733.9" y="119.7">.5</text>
<text x="733.9" y="146.8">.45</text>
<text x="733.9" y="173.9">.4</text>
<text x="733.9" y="200.9">.35</text>
<text x="733.9" y="228">.3</text>
<text x="733.9" y="255.1">.25</text>
<text x="733.9" y="282.2">.2</text>
<text x="733.9" y="309.3">.15</text>
<text x="733.9" y="336.3">.1</text>
<text x="733.9" y="363.4">.05</text>
<text x="733.9" y="390.5">.0</text>
<text x="733.9" y="417.6">-.05</text>
<text x="733.9" y="444.7">-.1</text>
<text x="733.9" y="471.7">-.15</text>
<text x="733.9" y="498.8">-.2</text>
<text x="733.9" y="525.9">-.25</text>
<text x="733.9" y="553">-.3</text>
<text x="733.9" y="580.1">-.35</text>
<text x="733.9" y="607.1">-.4</text>
<text x="733.9" y="634.2">-.45</text>
<text x="733.9" y="661.3">-.5</text>
</g>
</svg></body></html>
